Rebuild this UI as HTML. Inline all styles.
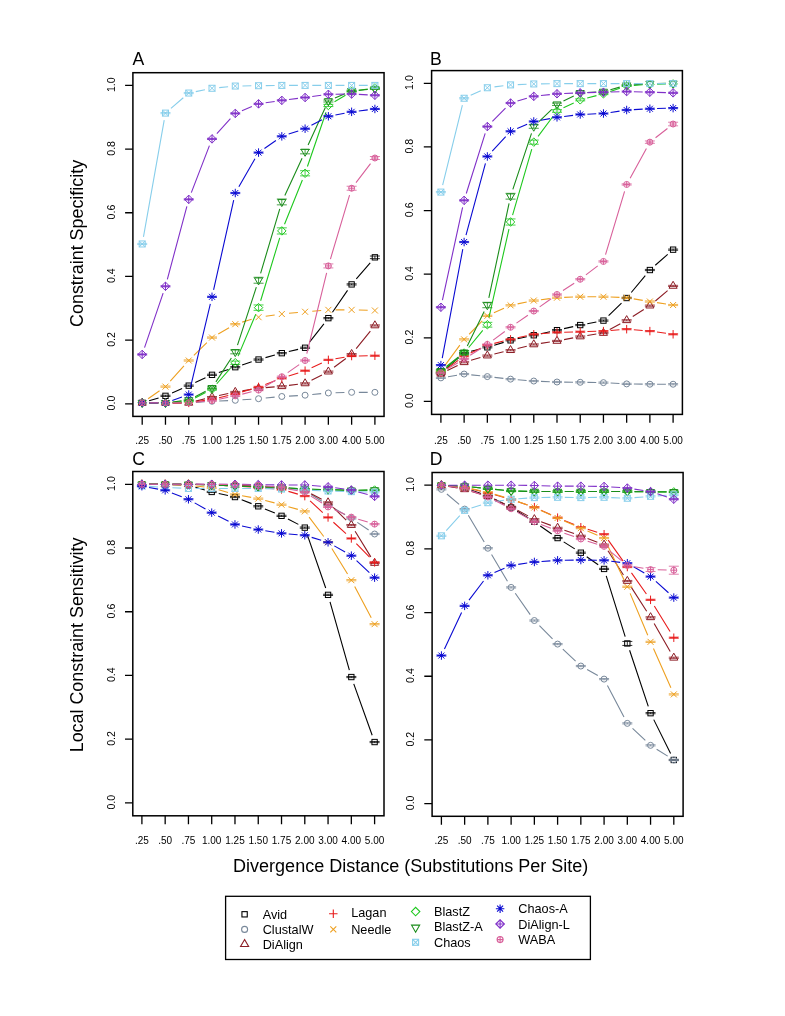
<!DOCTYPE html>
<html><head><meta charset="utf-8"><style>
html,body{margin:0;padding:0;background:#fff;}
svg{display:block;filter:blur(0.3px);}
text{font-family:"Liberation Sans",sans-serif;fill:#000;}
.yl{font-size:10.6px;}
.xl{font-size:10px;}
.pl{font-size:17.6px;}
.at{font-size:18px;}
.lg{font-size:12.7px;}
</style></head><body>
<svg width="785" height="1016" viewBox="0 0 785 1016">
<rect width="785" height="1016" fill="#fff"/>
<rect x="132.9" y="72.7" width="251.15" height="343.7" fill="none" stroke="#000" stroke-width="1.5"/>
<path d="M125.1 403.8H132.9M125.1 340.12H132.9M125.1 276.44H132.9M125.1 212.76H132.9M125.1 149.08H132.9M125.1 85.4H132.9M142.2 416.4V424.8M165.47 416.4V424.8M188.74 416.4V424.8M212.01 416.4V424.8M235.28 416.4V424.8M258.55 416.4V424.8M281.82 416.4V424.8M305.09 416.4V424.8M328.36 416.4V424.8M351.63 416.4V424.8M374.9 416.4V424.8" stroke="#000" stroke-width="1.3" fill="none"/>
<text transform="translate(114.7,403.1) rotate(-90)" text-anchor="middle" class="yl">0.0</text>
<text transform="translate(114.7,339.42) rotate(-90)" text-anchor="middle" class="yl">0.2</text>
<text transform="translate(114.7,275.74) rotate(-90)" text-anchor="middle" class="yl">0.4</text>
<text transform="translate(114.7,212.06) rotate(-90)" text-anchor="middle" class="yl">0.6</text>
<text transform="translate(114.7,148.38) rotate(-90)" text-anchor="middle" class="yl">0.8</text>
<text transform="translate(114.7,84.7) rotate(-90)" text-anchor="middle" class="yl">1.0</text>
<text x="142.2" y="443.6" text-anchor="middle" class="xl">.25</text>
<text x="165.47" y="443.6" text-anchor="middle" class="xl">.50</text>
<text x="188.74" y="443.6" text-anchor="middle" class="xl">.75</text>
<text x="212.01" y="443.6" text-anchor="middle" class="xl">1.00</text>
<text x="235.28" y="443.6" text-anchor="middle" class="xl">1.25</text>
<text x="258.55" y="443.6" text-anchor="middle" class="xl">1.50</text>
<text x="281.82" y="443.6" text-anchor="middle" class="xl">1.75</text>
<text x="305.09" y="443.6" text-anchor="middle" class="xl">2.00</text>
<text x="328.36" y="443.6" text-anchor="middle" class="xl">3.00</text>
<text x="351.63" y="443.6" text-anchor="middle" class="xl">4.00</text>
<text x="374.9" y="443.6" text-anchor="middle" class="xl">5.00</text>
<path d="M149.09 400.77L158.58 397.92M172.07 392.95L182.14 388.54M195.27 382.61L205.48 377.86M218.85 372.58L228.44 369.43M242.12 364.94L251.71 361.79M265.49 357.64L274.88 355.07M288.83 351.54L298.08 349.39M309.54 342.1L323.91 323.81M332.45 312.22L347.54 290.33M356.32 278.94L370.21 262.8" stroke="#000000" stroke-width="1.1" fill="none"/>
<path d="M160.47 395.24H170.47M160.47 396.44H170.47M165.47 395.24V396.44M183.74 385.05H193.74M183.74 386.25H193.74M188.74 385.05V386.25M207.01 374.23H217.01M207.01 375.43H217.01M212.01 374.23V375.43M230.28 366.58H240.28M230.28 367.78H240.28M235.28 366.58V367.78M253.55 358.94H263.55M253.55 360.14H263.55M258.55 358.94V360.14M276.82 352.57H286.82M276.82 353.77H286.82M281.82 352.57V353.77M300.09 347.16H310.09M300.09 348.36H310.09M305.09 347.16V348.36M323.36 317.55H333.36M323.36 318.75H333.36M328.36 317.55V318.75M346.63 283.8H356.63M346.63 285H356.63M351.63 283.8V285M369.9 256.04H379.9M369.9 258.64H379.9M374.9 256.04V258.64" stroke="#000000" stroke-width="0.8" fill="none"/>
<g stroke-width="1.0"><rect x="139.54" y="400.19" width="5.32" height="5.32" fill="none" stroke="#000000"/><rect x="162.81" y="393.18" width="5.32" height="5.32" fill="none" stroke="#000000"/><rect x="186.08" y="382.99" width="5.32" height="5.32" fill="none" stroke="#000000"/><rect x="209.35" y="372.17" width="5.32" height="5.32" fill="none" stroke="#000000"/><rect x="232.62" y="364.53" width="5.32" height="5.32" fill="none" stroke="#000000"/><rect x="255.89" y="356.88" width="5.32" height="5.32" fill="none" stroke="#000000"/><rect x="279.16" y="350.52" width="5.32" height="5.32" fill="none" stroke="#000000"/><rect x="302.43" y="345.1" width="5.32" height="5.32" fill="none" stroke="#000000"/><rect x="325.7" y="315.49" width="5.32" height="5.32" fill="none" stroke="#000000"/><rect x="348.97" y="281.74" width="5.32" height="5.32" fill="none" stroke="#000000"/><rect x="372.24" y="254.68" width="5.32" height="5.32" fill="none" stroke="#000000"/></g>
<path d="M149.4 402.84L158.27 402.84M172.67 402.84L181.54 402.84M195.92 402.35L204.83 401.74M219.2 400.96L228.09 400.59M242.46 399.81L251.37 399.2M265.72 398.02L274.65 397.16M289.01 396.08L297.9 395.6M312.26 394.52L321.19 393.66M335.56 392.78L344.43 392.53M358.83 392.34L367.7 392.34" stroke="#78889a" stroke-width="1.1" fill="none"/>
<path d="" stroke="#78889a" stroke-width="0.8" fill="none"/>
<g stroke-width="1.0"><circle cx="142.2" cy="402.84" r="3" fill="none" stroke="#78889a"/><circle cx="165.47" cy="402.84" r="3" fill="none" stroke="#78889a"/><circle cx="188.74" cy="402.84" r="3" fill="none" stroke="#78889a"/><circle cx="212.01" cy="401.25" r="3" fill="none" stroke="#78889a"/><circle cx="235.28" cy="400.3" r="3" fill="none" stroke="#78889a"/><circle cx="258.55" cy="398.71" r="3" fill="none" stroke="#78889a"/><circle cx="281.82" cy="396.48" r="3" fill="none" stroke="#78889a"/><circle cx="305.09" cy="395.2" r="3" fill="none" stroke="#78889a"/><circle cx="328.36" cy="392.97" r="3" fill="none" stroke="#78889a"/><circle cx="351.63" cy="392.34" r="3" fill="none" stroke="#78889a"/><circle cx="374.9" cy="392.34" r="3" fill="none" stroke="#78889a"/></g>
<path d="M149.4 402.84L158.27 402.84M172.67 402.84L181.54 402.84M195.73 401.12L205.02 398.84M219.04 395.57L228.25 393.56M242.38 390.85L251.45 389.36M265.73 387.61L274.64 386.88M288.97 385.41L297.94 384.3M311.51 380.17L321.94 374.89M334.11 367.31L345.88 358.46M356.17 348.54L370.36 331.06" stroke="#8c1c24" stroke-width="1.1" fill="none"/>
<path d="M207.01 396.51H217.01M207.01 397.71H217.01M212.01 396.51V397.71M230.28 391.42H240.28M230.28 392.62H240.28M235.28 391.42V392.62M253.55 387.6H263.55M253.55 388.8H263.55M258.55 387.6V388.8M276.82 385.69H286.82M276.82 386.89H286.82M281.82 385.69V386.89M300.09 382.82H310.09M300.09 384.02H310.09M305.09 382.82V384.02M323.36 371.04H333.36M323.36 372.24H333.36M328.36 371.04V372.24M346.63 353.53H356.63M346.63 354.73H356.63M351.63 353.53V354.73M369.9 324.87H379.9M369.9 326.07H379.9M374.9 324.87V326.07" stroke="#8c1c24" stroke-width="0.8" fill="none"/>
<g stroke-width="1.0"><polygon points="142.2,398.18 146.24,405.18 138.16,405.18" fill="none" stroke="#8c1c24"/><polygon points="165.47,398.18 169.51,405.18 161.43,405.18" fill="none" stroke="#8c1c24"/><polygon points="188.74,398.18 192.78,405.18 184.7,405.18" fill="none" stroke="#8c1c24"/><polygon points="212.01,392.45 216.05,399.45 207.97,399.45" fill="none" stroke="#8c1c24"/><polygon points="235.28,387.35 239.32,394.35 231.24,394.35" fill="none" stroke="#8c1c24"/><polygon points="258.55,383.53 262.59,390.53 254.51,390.53" fill="none" stroke="#8c1c24"/><polygon points="281.82,381.62 285.86,388.62 277.78,388.62" fill="none" stroke="#8c1c24"/><polygon points="305.09,378.76 309.13,385.76 301.05,385.76" fill="none" stroke="#8c1c24"/><polygon points="328.36,366.98 332.4,373.97 324.32,373.97" fill="none" stroke="#8c1c24"/><polygon points="351.63,349.46 355.67,356.46 347.59,356.46" fill="none" stroke="#8c1c24"/><polygon points="374.9,320.81 378.94,327.81 370.86,327.81" fill="none" stroke="#8c1c24"/></g>
<path d="M149.4 402.84L158.27 402.84M172.67 402.84L181.54 402.84M195.86 401.77L204.89 400.41M219.02 397.71L228.27 395.56M242.17 391.85L251.66 389M265.3 384.43L275.07 380.82M288.66 376.08L298.25 372.93M311.62 367.65L321.83 362.9M335.46 358.69L344.53 357.21M358.83 355.94L367.7 355.82" stroke="#e81c1c" stroke-width="1.1" fill="none"/>
<path d="M207.01 398.74H217.01M207.01 399.94H217.01M212.01 398.74V399.94M230.28 393.33H240.28M230.28 394.53H240.28M235.28 393.33V394.53M253.55 386.32H263.55M253.55 387.52H263.55M258.55 386.32V387.52M276.82 377.73H286.82M276.82 378.93H286.82M281.82 377.73V378.93M300.09 370.09H310.09M300.09 371.29H310.09M305.09 370.09V371.29M323.36 359.26H333.36M323.36 360.46H333.36M328.36 359.26V360.46M346.63 355.44H356.63M346.63 356.64H356.63M351.63 355.44V356.64M369.9 355.12H379.9M369.9 356.32H379.9M374.9 355.12V356.32" stroke="#e81c1c" stroke-width="0.8" fill="none"/>
<g stroke-width="1.0"><path d="M137.96 402.84H146.44M142.2 398.6V407.09" stroke="#e81c1c"/><path d="M161.23 402.84H169.71M165.47 398.6V407.09" stroke="#e81c1c"/><path d="M184.5 402.84H192.98M188.74 398.6V407.09" stroke="#e81c1c"/><path d="M207.77 399.34H216.25M212.01 395.1V403.59" stroke="#e81c1c"/><path d="M231.04 393.93H239.52M235.28 389.69V398.17" stroke="#e81c1c"/><path d="M254.31 386.92H262.79M258.55 382.68V391.17" stroke="#e81c1c"/><path d="M277.58 378.33H286.06M281.82 374.09V382.57" stroke="#e81c1c"/><path d="M300.85 370.69H309.33M305.09 366.44V374.93" stroke="#e81c1c"/><path d="M324.12 359.86H332.6M328.36 355.62V364.1" stroke="#e81c1c"/><path d="M347.39 356.04H355.87M351.63 351.8V360.28" stroke="#e81c1c"/><path d="M370.66 355.72H379.14M374.9 351.48V359.96" stroke="#e81c1c"/></g>
<path d="M148.1 398.72L159.57 390.73M170.26 381.23L183.95 365.87M193.87 355.44L206.88 342.63M218.25 333.99L229.04 327.79M242.17 322.12L251.66 319.27M265.68 316.22L274.69 314.99M288.99 313.32L297.92 312.47M312.27 311.19L321.18 310.46M335.56 309.87L344.43 309.87M358.83 310.07L367.7 310.31" stroke="#eea020" stroke-width="1.1" fill="none"/>
<path d="M160.47 386.01H170.47M160.47 387.21H170.47M165.47 386.01V387.21M183.74 359.9H193.74M183.74 361.1H193.74M188.74 359.9V361.1M207.01 336.97H217.01M207.01 338.17H217.01M212.01 336.97V338.17M230.28 323.6H240.28M230.28 324.8H240.28M235.28 323.6V324.8" stroke="#eea020" stroke-width="0.8" fill="none"/>
<g stroke-width="1.0"><path d="M139.2 399.84L145.2 405.84M139.2 405.84L145.2 399.84" stroke="#eea020"/><path d="M162.47 383.61L168.47 389.61M162.47 389.61L168.47 383.61" stroke="#eea020"/><path d="M185.74 357.5L191.74 363.5M185.74 363.5L191.74 357.5" stroke="#eea020"/><path d="M209.01 334.57L215.01 340.57M209.01 340.57L215.01 334.57" stroke="#eea020"/><path d="M232.28 321.2L238.28 327.2M232.28 327.2L238.28 321.2" stroke="#eea020"/><path d="M255.55 314.2L261.55 320.2M255.55 320.2L261.55 314.2" stroke="#eea020"/><path d="M278.82 311.01L284.82 317.01M278.82 317.01L284.82 311.01" stroke="#eea020"/><path d="M302.09 308.78L308.09 314.78M302.09 314.78L308.09 308.78" stroke="#eea020"/><path d="M325.36 306.87L331.36 312.87M325.36 312.87L331.36 306.87" stroke="#eea020"/><path d="M348.63 306.87L354.63 312.87M348.63 312.87L354.63 306.87" stroke="#eea020"/><path d="M371.9 307.51L377.9 313.51M371.9 313.51L377.9 307.51" stroke="#eea020"/></g>
<path d="M149.4 402.84L158.27 402.84M172.65 402.35L181.56 401.74M195.13 397.93L205.62 392.48M216.77 383.75L230.52 368.13M238.08 356.09L255.75 314.28M260.64 300.75L279.73 237.8M284.52 224.23L302.39 179.95M307.43 166.47L326.02 112.27M334.53 101.75L345.46 95.16M358.75 90.38L367.78 89.02" stroke="#1ec81e" stroke-width="1.1" fill="none"/>
<path d="M183.74 400.65H193.74M183.74 401.85H193.74M188.74 400.65V401.85M207.01 388.2H217.01M207.01 390.11H217.01M212.01 388.2V390.11M230.28 361.06H240.28M230.28 364.39H240.28M235.28 361.06V364.39M253.55 304.95H263.55M253.55 310.34H263.55M258.55 304.95V310.34M276.82 227.83H286.82M276.82 233.99H286.82M281.82 227.83V233.99M300.09 170.7H310.09M300.09 175.86H310.09M305.09 170.7V175.86M323.36 104.35H333.36M323.36 106.57H333.36M328.36 104.35V106.57M346.63 90.76H356.63M346.63 92.14H356.63M351.63 90.76V92.14M369.9 87.35H379.9M369.9 88.55H379.9M374.9 87.35V88.55" stroke="#1ec81e" stroke-width="0.8" fill="none"/>
<g stroke-width="1.0"><polygon points="137.96,402.84 142.2,398.6 146.44,402.84 142.2,407.09" fill="none" stroke="#1ec81e"/><polygon points="161.23,402.84 165.47,398.6 169.71,402.84 165.47,407.09" fill="none" stroke="#1ec81e"/><polygon points="184.5,401.25 188.74,397.01 192.98,401.25 188.74,405.5" fill="none" stroke="#1ec81e"/><polygon points="207.77,389.15 212.01,384.91 216.25,389.15 212.01,393.4" fill="none" stroke="#1ec81e"/><polygon points="231.04,362.73 235.28,358.48 239.52,362.73 235.28,366.97" fill="none" stroke="#1ec81e"/><polygon points="254.31,307.64 258.55,303.4 262.79,307.64 258.55,311.89" fill="none" stroke="#1ec81e"/><polygon points="277.58,230.91 281.82,226.67 286.06,230.91 281.82,235.15" fill="none" stroke="#1ec81e"/><polygon points="300.85,173.28 305.09,169.04 309.33,173.28 305.09,177.52" fill="none" stroke="#1ec81e"/><polygon points="324.12,105.46 328.36,101.22 332.6,105.46 328.36,109.7" fill="none" stroke="#1ec81e"/><polygon points="347.39,91.45 351.63,87.21 355.87,91.45 351.63,95.69" fill="none" stroke="#1ec81e"/><polygon points="370.66,87.95 374.9,83.7 379.14,87.95 374.9,92.19" fill="none" stroke="#1ec81e"/></g>
<path d="M149.4 402.84L158.27 402.84M172.62 401.96L181.59 400.86M195.13 396.66L205.62 391.2M215.92 381.83L231.37 357.95M237.5 345.05L256.33 287.11M260.6 273.36L279.77 208.84M284.84 195.4L302.07 158.16M308.1 145.09L325.35 107.54M334.96 98.11L345.03 93.7M358.81 90.22L367.72 89.49" stroke="#1a8c1a" stroke-width="1.1" fill="none"/>
<path d="M183.74 399.36H193.74M183.74 400.6H193.74M188.74 399.36V400.6M207.01 386.89H217.01M207.01 388.87H217.01M212.01 386.89V388.87M230.28 349.98H240.28M230.28 353.82H240.28M235.28 349.98V353.82M253.55 277.29H263.55M253.55 283.23H263.55M258.55 277.29V283.23M276.82 199.02H286.82M276.82 204.85H286.82M281.82 199.02V204.85M300.09 149.41H310.09M300.09 153.84H310.09M305.09 149.41V153.84M323.36 100.02H333.36M323.36 101.99H333.36M328.36 100.02V101.99M346.63 90.14H356.63M346.63 91.49H356.63M351.63 90.14V91.49M369.9 88.29H379.9M369.9 89.52H379.9M374.9 88.29V89.52" stroke="#1a8c1a" stroke-width="0.8" fill="none"/>
<g stroke-width="1.0"><polygon points="142.2,407.51 146.24,400.51 138.16,400.51" fill="none" stroke="#1a8c1a"/><polygon points="165.47,407.51 169.51,400.51 161.43,400.51" fill="none" stroke="#1a8c1a"/><polygon points="188.74,404.64 192.78,397.65 184.7,397.65" fill="none" stroke="#1a8c1a"/><polygon points="212.01,392.55 216.05,385.55 207.97,385.55" fill="none" stroke="#1a8c1a"/><polygon points="235.28,356.57 239.32,349.57 231.24,349.57" fill="none" stroke="#1a8c1a"/><polygon points="258.55,284.93 262.59,277.93 254.51,277.93" fill="none" stroke="#1a8c1a"/><polygon points="281.82,206.6 285.86,199.6 277.78,199.6" fill="none" stroke="#1a8c1a"/><polygon points="305.09,156.29 309.13,149.29 301.05,149.29" fill="none" stroke="#1a8c1a"/><polygon points="328.36,105.67 332.4,98.67 324.32,98.67" fill="none" stroke="#1a8c1a"/><polygon points="351.63,95.48 355.67,88.48 347.59,88.48" fill="none" stroke="#1a8c1a"/><polygon points="374.9,93.57 378.94,86.57 370.86,86.57" fill="none" stroke="#1a8c1a"/></g>
<path d="M143.46 236.87L164.21 120.19M170.92 108.4L183.29 97.74M195.79 91.59L204.96 89.71M219.18 87.58L228.11 86.72M242.48 85.94L251.35 85.82M265.75 85.62L274.62 85.5M289.02 85.4L297.89 85.4M312.29 85.4L321.16 85.4M335.56 85.4L344.43 85.4M358.83 85.4L367.7 85.4" stroke="#87ceeb" stroke-width="1.1" fill="none"/>
<path d="M137.2 243.36H147.2M137.2 244.56H147.2M142.2 243.36V244.56M160.47 112.5H170.47M160.47 113.7H170.47M165.47 112.5V113.7M183.74 92.44H193.74M183.74 93.64H193.74M188.74 92.44V93.64" stroke="#87ceeb" stroke-width="0.8" fill="none"/>
<g stroke-width="1.0"><rect x="139.2" y="240.96" width="6" height="6" fill="none" stroke="#87ceeb"/><path d="M139.2 240.96L145.2 246.96M139.2 246.96L145.2 240.96" stroke="#87ceeb"/><rect x="162.47" y="110.1" width="6" height="6" fill="none" stroke="#87ceeb"/><path d="M162.47 110.1L168.47 116.1M162.47 116.1L168.47 110.1" stroke="#87ceeb"/><rect x="185.74" y="90.04" width="6" height="6" fill="none" stroke="#87ceeb"/><path d="M185.74 90.04L191.74 96.04M185.74 96.04L191.74 90.04" stroke="#87ceeb"/><rect x="209.01" y="85.27" width="6" height="6" fill="none" stroke="#87ceeb"/><path d="M209.01 85.27L215.01 91.27M209.01 91.27L215.01 85.27" stroke="#87ceeb"/><rect x="232.28" y="83.04" width="6" height="6" fill="none" stroke="#87ceeb"/><path d="M232.28 83.04L238.28 89.04M232.28 89.04L238.28 83.04" stroke="#87ceeb"/><rect x="255.55" y="82.72" width="6" height="6" fill="none" stroke="#87ceeb"/><path d="M255.55 82.72L261.55 88.72M255.55 88.72L261.55 82.72" stroke="#87ceeb"/><rect x="278.82" y="82.4" width="6" height="6" fill="none" stroke="#87ceeb"/><path d="M278.82 82.4L284.82 88.4M278.82 88.4L284.82 82.4" stroke="#87ceeb"/><rect x="302.09" y="82.4" width="6" height="6" fill="none" stroke="#87ceeb"/><path d="M302.09 82.4L308.09 88.4M302.09 88.4L308.09 82.4" stroke="#87ceeb"/><rect x="325.36" y="82.4" width="6" height="6" fill="none" stroke="#87ceeb"/><path d="M325.36 82.4L331.36 88.4M325.36 88.4L331.36 82.4" stroke="#87ceeb"/><rect x="348.63" y="82.4" width="6" height="6" fill="none" stroke="#87ceeb"/><path d="M348.63 82.4L354.63 88.4M348.63 88.4L354.63 82.4" stroke="#87ceeb"/><rect x="371.9" y="82.4" width="6" height="6" fill="none" stroke="#87ceeb"/><path d="M371.9 82.4L377.9 88.4M371.9 88.4L377.9 82.4" stroke="#87ceeb"/></g>
<path d="M149.4 402.84L158.27 402.84M172.25 400.43L181.96 396.98M190.41 387.56L210.34 303.82M213.59 289.79L233.7 200.04M238.87 186.78L254.96 158.82M264.45 148.46L275.92 140.46M288.66 134.1L298.25 130.95M311.44 125.31L322.01 119.67M335.43 114.93L344.56 113.18M358.78 110.95L367.75 109.84" stroke="#0a0ad2" stroke-width="1.1" fill="none"/>
<path d="M183.74 393.97H193.74M183.74 395.17H193.74M188.74 393.97V395.17M207.01 296.22H217.01M207.01 297.42H217.01M212.01 296.22V297.42M230.28 192.42H240.28M230.28 193.62H240.28M235.28 192.42V193.62M253.55 151.98H263.55M253.55 153.18H263.55M258.55 151.98V153.18M276.82 135.74H286.82M276.82 136.94H286.82M281.82 135.74V136.94M300.09 128.1H310.09M300.09 129.3H310.09M305.09 128.1V129.3M323.36 115.68H333.36M323.36 116.88H333.36M328.36 115.68V116.88M346.63 111.23H356.63M346.63 112.43H356.63M351.63 111.23V112.43M369.9 108.36H379.9M369.9 109.56H379.9M374.9 108.36V109.56" stroke="#0a0ad2" stroke-width="0.8" fill="none"/>
<g stroke-width="1.0"><path d="M137.96 402.84H146.44M142.2 398.6V407.09M139.2 399.84L145.2 405.84M139.2 405.84L145.2 399.84" stroke="#0a0ad2"/><path d="M161.23 402.84H169.71M165.47 398.6V407.09M162.47 399.84L168.47 405.84M162.47 405.84L168.47 399.84" stroke="#0a0ad2"/><path d="M184.5 394.57H192.98M188.74 390.32V398.81M185.74 391.57L191.74 397.57M185.74 397.57L191.74 391.57" stroke="#0a0ad2"/><path d="M207.77 296.82H216.25M212.01 292.57V301.06M209.01 293.82L215.01 299.82M209.01 299.82L215.01 293.82" stroke="#0a0ad2"/><path d="M231.04 193.02H239.52M235.28 188.78V197.26M232.28 190.02L238.28 196.02M232.28 196.02L238.28 190.02" stroke="#0a0ad2"/><path d="M254.31 152.58H262.79M258.55 148.34V156.83M255.55 149.58L261.55 155.58M255.55 155.58L261.55 149.58" stroke="#0a0ad2"/><path d="M277.58 136.34H286.06M281.82 132.1V140.59M278.82 133.34L284.82 139.34M278.82 139.34L284.82 133.34" stroke="#0a0ad2"/><path d="M300.85 128.7H309.33M305.09 124.46V132.95M302.09 125.7L308.09 131.7M302.09 131.7L308.09 125.7" stroke="#0a0ad2"/><path d="M324.12 116.28H332.6M328.36 112.04V120.53M325.36 113.28L331.36 119.28M325.36 119.28L331.36 113.28" stroke="#0a0ad2"/><path d="M347.39 111.83H355.87M351.63 107.58V116.07M348.63 108.83L354.63 114.83M348.63 114.83L354.63 108.83" stroke="#0a0ad2"/><path d="M370.66 108.96H379.14M374.9 104.72V113.2M371.9 105.96L377.9 111.96M371.9 111.96L377.9 105.96" stroke="#0a0ad2"/></g>
<path d="M144.53 347.63L163.14 293.12M167.33 279.36L186.88 206.34M191.32 192.67L209.43 145.61M216.87 133.58L230.42 118.73M241.94 110.69L251.89 106.6M265.67 102.8L274.7 101.44M288.97 99.48L297.94 98.38M312.22 96.52L321.23 95.29M335.56 94.22L344.43 94.1M358.82 94.39L367.71 94.88" stroke="#8030c8" stroke-width="1.1" fill="none"/>
<path d="M137.2 353.85H147.2M137.2 355.05H147.2M142.2 353.85V355.05M160.47 285.71H170.47M160.47 286.91H170.47M165.47 285.71V286.91M183.74 198.79H193.74M183.74 199.99H193.74M188.74 198.79V199.99M207.01 138.29H217.01M207.01 139.49H217.01M212.01 138.29V139.49M230.28 112.82H240.28M230.28 114.02H240.28M235.28 112.82V114.02M253.55 103.27H263.55M253.55 104.47H263.55M258.55 103.27V104.47M276.82 99.76H286.82M276.82 100.96H286.82M281.82 99.76V100.96M300.09 96.9H310.09M300.09 98.1H310.09M305.09 96.9V98.1M323.36 93.72H333.36M323.36 94.92H333.36M328.36 93.72V94.92M346.63 93.4H356.63M346.63 94.6H356.63M351.63 93.4V94.6M369.9 94.67H379.9M369.9 95.87H379.9M374.9 94.67V95.87" stroke="#8030c8" stroke-width="0.8" fill="none"/>
<g stroke-width="1.0"><polygon points="137.96,354.45 142.2,350.21 146.44,354.45 142.2,358.69" fill="none" stroke="#8030c8"/><path d="M137.96 354.45H146.44M142.2 350.21V358.69" stroke="#8030c8"/><polygon points="161.23,286.31 165.47,282.07 169.71,286.31 165.47,290.55" fill="none" stroke="#8030c8"/><path d="M161.23 286.31H169.71M165.47 282.07V290.55" stroke="#8030c8"/><polygon points="184.5,199.39 188.74,195.14 192.98,199.39 188.74,203.63" fill="none" stroke="#8030c8"/><path d="M184.5 199.39H192.98M188.74 195.14V203.63" stroke="#8030c8"/><polygon points="207.77,138.89 212.01,134.65 216.25,138.89 212.01,143.13" fill="none" stroke="#8030c8"/><path d="M207.77 138.89H216.25M212.01 134.65V143.13" stroke="#8030c8"/><polygon points="231.04,113.42 235.28,109.18 239.52,113.42 235.28,117.66" fill="none" stroke="#8030c8"/><path d="M231.04 113.42H239.52M235.28 109.18V117.66" stroke="#8030c8"/><polygon points="254.31,103.87 258.55,99.62 262.79,103.87 258.55,108.11" fill="none" stroke="#8030c8"/><path d="M254.31 103.87H262.79M258.55 99.62V108.11" stroke="#8030c8"/><polygon points="277.58,100.36 281.82,96.12 286.06,100.36 281.82,104.61" fill="none" stroke="#8030c8"/><path d="M277.58 100.36H286.06M281.82 96.12V104.61" stroke="#8030c8"/><polygon points="300.85,97.5 305.09,93.26 309.33,97.5 305.09,101.74" fill="none" stroke="#8030c8"/><path d="M300.85 97.5H309.33M305.09 93.26V101.74" stroke="#8030c8"/><polygon points="324.12,94.32 328.36,90.07 332.6,94.32 328.36,98.56" fill="none" stroke="#8030c8"/><path d="M324.12 94.32H332.6M328.36 90.07V98.56" stroke="#8030c8"/><polygon points="347.39,94 351.63,89.75 355.87,94 351.63,98.24" fill="none" stroke="#8030c8"/><path d="M347.39 94H355.87M351.63 89.75V98.24" stroke="#8030c8"/><polygon points="370.66,95.27 374.9,91.03 379.14,95.27 374.9,99.51" fill="none" stroke="#8030c8"/><path d="M370.66 95.27H379.14M374.9 91.03V99.51" stroke="#8030c8"/></g>
<path d="M149.4 402.84L158.27 402.84M172.67 402.84L181.54 402.84M195.91 402.16L204.84 401.3M219.06 399.17L228.23 397.29M242.27 394.12L251.56 391.83M264.79 386.52L275.58 380.32M287.72 372.62L299.19 364.62M306.81 353.51L326.64 272.92M330.43 259.04L349.56 195.14M356.02 182.54L370.51 163.7" stroke="#d8609a" stroke-width="1.1" fill="none"/>
<path d="M207.01 400.02H217.01M207.01 401.22H217.01M212.01 400.02V401.22M230.28 395.24H240.28M230.28 396.44H240.28M235.28 395.24V396.44M253.55 389.51H263.55M253.55 390.71H263.55M258.55 389.51V390.71M276.82 376.14H286.82M276.82 377.34H286.82M281.82 376.14V377.34M300.09 359.9H310.09M300.09 361.1H310.09M305.09 359.9V361.1M323.36 263.93H333.36M323.36 267.93H333.36M328.36 263.93V267.93M346.63 186.24H356.63M346.63 190.24H356.63M351.63 186.24V190.24M369.9 156.5H379.9M369.9 159.5H379.9M374.9 156.5V159.5" stroke="#d8609a" stroke-width="0.8" fill="none"/>
<g stroke-width="1.0"><circle cx="142.2" cy="402.84" r="3" fill="none" stroke="#d8609a"/><path d="M139.2 402.84H145.2M142.2 399.84V405.84" stroke="#d8609a"/><circle cx="165.47" cy="402.84" r="3" fill="none" stroke="#d8609a"/><path d="M162.47 402.84H168.47M165.47 399.84V405.84" stroke="#d8609a"/><circle cx="188.74" cy="402.84" r="3" fill="none" stroke="#d8609a"/><path d="M185.74 402.84H191.74M188.74 399.84V405.84" stroke="#d8609a"/><circle cx="212.01" cy="400.62" r="3" fill="none" stroke="#d8609a"/><path d="M209.01 400.62H215.01M212.01 397.62V403.62" stroke="#d8609a"/><circle cx="235.28" cy="395.84" r="3" fill="none" stroke="#d8609a"/><path d="M232.28 395.84H238.28M235.28 392.84V398.84" stroke="#d8609a"/><circle cx="258.55" cy="390.11" r="3" fill="none" stroke="#d8609a"/><path d="M255.55 390.11H261.55M258.55 387.11V393.11" stroke="#d8609a"/><circle cx="281.82" cy="376.74" r="3" fill="none" stroke="#d8609a"/><path d="M278.82 376.74H284.82M281.82 373.74V379.74" stroke="#d8609a"/><circle cx="305.09" cy="360.5" r="3" fill="none" stroke="#d8609a"/><path d="M302.09 360.5H308.09M305.09 357.5V363.5" stroke="#d8609a"/><circle cx="328.36" cy="265.93" r="3" fill="none" stroke="#d8609a"/><path d="M325.36 265.93H331.36M328.36 262.93V268.93" stroke="#d8609a"/><circle cx="351.63" cy="188.24" r="3" fill="none" stroke="#d8609a"/><path d="M348.63 188.24H354.63M351.63 185.24V191.24" stroke="#d8609a"/><circle cx="374.9" cy="158" r="3" fill="none" stroke="#d8609a"/><path d="M371.9 158H377.9M374.9 155V161" stroke="#d8609a"/></g>
<rect x="431.6" y="70.6" width="250.8" height="343.8" fill="none" stroke="#000" stroke-width="1.5"/>
<path d="M423.8 401.4H431.6M423.8 337.78H431.6M423.8 274.16H431.6M423.8 210.54H431.6M423.8 146.92H431.6M423.8 83.3H431.6M440.9 414.4V422.8M464.12 414.4V422.8M487.34 414.4V422.8M510.56 414.4V422.8M533.78 414.4V422.8M557 414.4V422.8M580.22 414.4V422.8M603.44 414.4V422.8M626.66 414.4V422.8M649.88 414.4V422.8M673.1 414.4V422.8" stroke="#000" stroke-width="1.3" fill="none"/>
<text transform="translate(413.4,400.7) rotate(-90)" text-anchor="middle" class="yl">0.0</text>
<text transform="translate(413.4,337.08) rotate(-90)" text-anchor="middle" class="yl">0.2</text>
<text transform="translate(413.4,273.46) rotate(-90)" text-anchor="middle" class="yl">0.4</text>
<text transform="translate(413.4,209.84) rotate(-90)" text-anchor="middle" class="yl">0.6</text>
<text transform="translate(413.4,146.22) rotate(-90)" text-anchor="middle" class="yl">0.8</text>
<text transform="translate(413.4,82.6) rotate(-90)" text-anchor="middle" class="yl">1.0</text>
<text x="440.9" y="443.6" text-anchor="middle" class="xl">.25</text>
<text x="464.12" y="443.6" text-anchor="middle" class="xl">.50</text>
<text x="487.34" y="443.6" text-anchor="middle" class="xl">.75</text>
<text x="510.56" y="443.6" text-anchor="middle" class="xl">1.00</text>
<text x="533.78" y="443.6" text-anchor="middle" class="xl">1.25</text>
<text x="557" y="443.6" text-anchor="middle" class="xl">1.50</text>
<text x="580.22" y="443.6" text-anchor="middle" class="xl">1.75</text>
<text x="603.44" y="443.6" text-anchor="middle" class="xl">2.00</text>
<text x="626.66" y="443.6" text-anchor="middle" class="xl">3.00</text>
<text x="649.88" y="443.6" text-anchor="middle" class="xl">4.00</text>
<text x="673.1" y="443.6" text-anchor="middle" class="xl">5.00</text>
<path d="M446.39 368.11L458.63 357.71M471.11 351.32L480.35 349.05M494.23 345.25L503.67 342.4M517.59 338.78L526.75 336.78M540.81 333.69L549.97 331.69M564.03 328.6L573.19 326.6M587.29 323.7L596.37 321.96M608.6 315.58L621.5 303.04M631.26 292.48L645.28 275.57M655.29 265.28L667.69 254.41" stroke="#000000" stroke-width="1.1" fill="none"/>
<path d="M435.9 372.17H445.9M435.9 373.37H445.9M440.9 372.17V373.37M459.12 352.45H469.12M459.12 353.65H469.12M464.12 352.45V353.65M482.34 346.72H492.34M482.34 347.92H492.34M487.34 346.72V347.92M505.56 339.72H515.56M505.56 340.92H515.56M510.56 339.72V340.92M528.78 334.64H538.78M528.78 335.84H538.78M533.78 334.64V335.84M552 329.55H562M552 330.75H562M557 329.55V330.75M575.22 324.46H585.22M575.22 325.66H585.22M580.22 324.46V325.66M598.44 320H608.44M598.44 321.2H608.44M603.44 320V321.2M621.66 297.42H631.66M621.66 298.62H631.66M626.66 297.42V298.62M644.88 269.42H654.88M644.88 270.62H654.88M649.88 269.42V270.62M668.1 249.07H678.1M668.1 250.27H678.1M673.1 249.07V250.27" stroke="#000000" stroke-width="0.8" fill="none"/>
<g stroke-width="1.0"><rect x="438.24" y="370.11" width="5.32" height="5.32" fill="none" stroke="#000000"/><rect x="461.46" y="350.39" width="5.32" height="5.32" fill="none" stroke="#000000"/><rect x="484.68" y="344.66" width="5.32" height="5.32" fill="none" stroke="#000000"/><rect x="507.9" y="337.67" width="5.32" height="5.32" fill="none" stroke="#000000"/><rect x="531.12" y="332.58" width="5.32" height="5.32" fill="none" stroke="#000000"/><rect x="554.34" y="327.49" width="5.32" height="5.32" fill="none" stroke="#000000"/><rect x="577.56" y="322.4" width="5.32" height="5.32" fill="none" stroke="#000000"/><rect x="600.78" y="317.94" width="5.32" height="5.32" fill="none" stroke="#000000"/><rect x="624" y="295.36" width="5.32" height="5.32" fill="none" stroke="#000000"/><rect x="647.22" y="267.37" width="5.32" height="5.32" fill="none" stroke="#000000"/><rect x="670.44" y="247.01" width="5.32" height="5.32" fill="none" stroke="#000000"/></g>
<path d="M448 376.69L457.02 375.21M471.28 374.83L480.18 375.8M494.5 377.37L503.4 378.35M517.74 379.72L526.6 380.45M540.97 381.34L549.81 381.7M564.2 382.09L573.02 382.22M587.42 382.41L596.24 382.53M610.63 383.03L619.47 383.51M633.86 384L642.68 384.12M657.08 384.22L665.9 384.22" stroke="#78889a" stroke-width="1.1" fill="none"/>
<path d="M435.9 377.26H445.9M435.9 378.46H445.9M440.9 377.26V378.46M459.12 373.44H469.12M459.12 374.64H469.12M464.12 373.44V374.64M482.34 375.99H492.34M482.34 377.19H492.34M487.34 375.99V377.19M505.56 378.53H515.56M505.56 379.73H515.56M510.56 378.53V379.73M528.78 380.44H538.78M528.78 381.64H538.78M533.78 380.44V381.64M552 381.4H562M552 382.6H562M557 381.4V382.6M575.22 381.71H585.22M575.22 382.91H585.22M580.22 381.71V382.91M598.44 382.03H608.44M598.44 383.23H608.44M603.44 382.03V383.23M621.66 383.3H631.66M621.66 384.5H631.66M626.66 383.3V384.5M644.88 383.62H654.88M644.88 384.82H654.88M649.88 383.62V384.82M668.1 383.62H678.1M668.1 384.82H678.1M673.1 383.62V384.82" stroke="#78889a" stroke-width="0.8" fill="none"/>
<g stroke-width="1.0"><circle cx="440.9" cy="377.86" r="3" fill="none" stroke="#78889a"/><circle cx="464.12" cy="374.04" r="3" fill="none" stroke="#78889a"/><circle cx="487.34" cy="376.59" r="3" fill="none" stroke="#78889a"/><circle cx="510.56" cy="379.13" r="3" fill="none" stroke="#78889a"/><circle cx="533.78" cy="381.04" r="3" fill="none" stroke="#78889a"/><circle cx="557" cy="382" r="3" fill="none" stroke="#78889a"/><circle cx="580.22" cy="382.31" r="3" fill="none" stroke="#78889a"/><circle cx="603.44" cy="382.63" r="3" fill="none" stroke="#78889a"/><circle cx="626.66" cy="383.9" r="3" fill="none" stroke="#78889a"/><circle cx="649.88" cy="384.22" r="3" fill="none" stroke="#78889a"/><circle cx="673.1" cy="384.22" r="3" fill="none" stroke="#78889a"/></g>
<path d="M447.36 370.54L457.66 365.46M471.04 360.28L480.42 357.58M494.35 353.96L503.55 351.82M517.55 348.46L526.79 346.18M540.9 343.39L549.88 342.03M564.07 339.6L573.15 337.86M587.34 335.43L596.32 334.08M609.75 329.55L620.35 323.74M632.75 316.45L643.79 309.49M655.37 300.99L667.61 290.59" stroke="#8c1c24" stroke-width="1.1" fill="none"/>
<path d="M435.9 373.13H445.9M435.9 374.33H445.9M440.9 373.13V374.33M459.12 361.67H469.12M459.12 362.87H469.12M464.12 361.67V362.87M482.34 354.99H492.34M482.34 356.19H492.34M487.34 354.99V356.19M505.56 349.59H515.56M505.56 350.79H515.56M510.56 349.59V350.79M528.78 343.86H538.78M528.78 345.06H538.78M533.78 343.86V345.06M552 340.36H562M552 341.56H562M557 340.36V341.56M575.22 335.91H585.22M575.22 337.11H585.22M580.22 335.91V337.11M598.44 332.41H608.44M598.44 333.61H608.44M603.44 332.41V333.61M621.66 319.68H631.66M621.66 320.88H631.66M626.66 319.68V320.88M644.88 305.05H654.88M644.88 306.25H654.88M649.88 305.05V306.25M668.1 285.33H678.1M668.1 286.53H678.1M673.1 285.33V286.53" stroke="#8c1c24" stroke-width="0.8" fill="none"/>
<g stroke-width="1.0"><polygon points="440.9,369.06 444.94,376.06 436.86,376.06" fill="none" stroke="#8c1c24"/><polygon points="464.12,357.61 468.16,364.61 460.08,364.61" fill="none" stroke="#8c1c24"/><polygon points="487.34,350.93 491.38,357.93 483.3,357.93" fill="none" stroke="#8c1c24"/><polygon points="510.56,345.52 514.6,352.52 506.52,352.52" fill="none" stroke="#8c1c24"/><polygon points="533.78,339.79 537.82,346.79 529.74,346.79" fill="none" stroke="#8c1c24"/><polygon points="557,336.3 561.04,343.29 552.96,343.29" fill="none" stroke="#8c1c24"/><polygon points="580.22,331.84 584.26,338.84 576.18,338.84" fill="none" stroke="#8c1c24"/><polygon points="603.44,328.34 607.48,335.34 599.4,335.34" fill="none" stroke="#8c1c24"/><polygon points="626.66,315.62 630.7,322.62 622.62,322.62" fill="none" stroke="#8c1c24"/><polygon points="649.88,300.99 653.92,307.98 645.84,307.98" fill="none" stroke="#8c1c24"/><polygon points="673.1,281.26 677.14,288.26 669.06,288.26" fill="none" stroke="#8c1c24"/></g>
<path d="M446.76 368.59L458.26 360.41M470.61 353.12L480.85 348.21M494.33 343.37L503.57 341.09M517.59 337.83L526.75 335.82M540.96 333.69L549.82 332.96M564.2 332.18L573.02 331.93M587.42 331.54L596.24 331.3M610.62 330.51L619.48 329.78M633.84 329.78L642.7 330.51M657.01 332.08L665.97 333.3" stroke="#e81c1c" stroke-width="1.1" fill="none"/>
<path d="M435.9 372.17H445.9M435.9 373.37H445.9M440.9 372.17V373.37M459.12 355.63H469.12M459.12 356.83H469.12M464.12 355.63V356.83M482.34 344.5H492.34M482.34 345.7H492.34M487.34 344.5V345.7M505.56 338.77H515.56M505.56 339.97H515.56M510.56 338.77V339.97M528.78 333.68H538.78M528.78 334.88H538.78M533.78 333.68V334.88M552 331.77H562M552 332.97H562M557 331.77V332.97M575.22 331.14H585.22M575.22 332.34H585.22M580.22 331.14V332.34M598.44 330.5H608.44M598.44 331.7H608.44M603.44 330.5V331.7M621.66 328.59H631.66M621.66 329.79H631.66M626.66 328.59V329.79M644.88 330.5H654.88M644.88 331.7H654.88M649.88 330.5V331.7M668.1 333.68H678.1M668.1 334.88H678.1M673.1 333.68V334.88" stroke="#e81c1c" stroke-width="0.8" fill="none"/>
<g stroke-width="1.0"><path d="M436.66 372.77H445.14M440.9 368.53V377.01" stroke="#e81c1c"/><path d="M459.88 356.23H468.36M464.12 351.99V360.47" stroke="#e81c1c"/><path d="M483.1 345.1H491.58M487.34 340.85V349.34" stroke="#e81c1c"/><path d="M506.32 339.37H514.8M510.56 335.13V343.61" stroke="#e81c1c"/><path d="M529.54 334.28H538.02M533.78 330.04V338.52" stroke="#e81c1c"/><path d="M552.76 332.37H561.24M557 328.13V336.61" stroke="#e81c1c"/><path d="M575.98 331.74H584.46M580.22 327.49V335.98" stroke="#e81c1c"/><path d="M599.2 331.1H607.68M603.44 326.86V335.34" stroke="#e81c1c"/><path d="M622.42 329.19H630.9M626.66 324.95V333.43" stroke="#e81c1c"/><path d="M645.64 331.1H654.12M649.88 326.86V335.34" stroke="#e81c1c"/><path d="M668.86 334.28H677.34M673.1 330.04V338.52" stroke="#e81c1c"/></g>
<path d="M445.17 365.07L459.85 345.17M469.18 334.24L482.28 320.96M493.9 312.87L504 308.3M517.61 303.88L526.73 302.01M540.93 299.68L549.85 298.58M564.19 297.4L573.03 297.04M587.42 296.75L596.24 296.75M610.63 297.04L619.47 297.4M633.76 298.87L642.78 300.35M657 302.59L665.98 303.94" stroke="#eea020" stroke-width="1.1" fill="none"/>
<path d="M435.9 370.26H445.9M435.9 371.46H445.9M440.9 370.26V371.46M459.12 338.77H469.12M459.12 339.97H469.12M464.12 338.77V339.97M482.34 315.23H492.34M482.34 316.43H492.34M487.34 315.23V316.43M505.56 304.73H515.56M505.56 305.93H515.56M510.56 304.73V305.93M528.78 299.96H538.78M528.78 301.16H538.78M533.78 299.96V301.16M552 297.1H562M552 298.3H562M557 297.1V298.3M575.22 296.15H585.22M575.22 297.35H585.22M580.22 296.15V297.35M598.44 296.15H608.44M598.44 297.35H608.44M603.44 296.15V297.35M621.66 297.1H631.66M621.66 298.3H631.66M626.66 297.1V298.3M644.88 300.92H654.88M644.88 302.12H654.88M649.88 300.92V302.12M668.1 304.42H678.1M668.1 305.62H678.1M673.1 304.42V305.62" stroke="#eea020" stroke-width="0.8" fill="none"/>
<g stroke-width="1.0"><path d="M437.9 367.86L443.9 373.86M437.9 373.86L443.9 367.86" stroke="#eea020"/><path d="M461.12 336.37L467.12 342.37M461.12 342.37L467.12 336.37" stroke="#eea020"/><path d="M484.34 312.83L490.34 318.83M484.34 318.83L490.34 312.83" stroke="#eea020"/><path d="M507.56 302.33L513.56 308.33M507.56 308.33L513.56 302.33" stroke="#eea020"/><path d="M530.78 297.56L536.78 303.56M530.78 303.56L536.78 297.56" stroke="#eea020"/><path d="M554 294.7L560 300.7M554 300.7L560 294.7" stroke="#eea020"/><path d="M577.22 293.75L583.22 299.75M577.22 299.75L583.22 293.75" stroke="#eea020"/><path d="M600.44 293.75L606.44 299.75M600.44 299.75L606.44 293.75" stroke="#eea020"/><path d="M623.66 294.7L629.66 300.7M623.66 300.7L629.66 294.7" stroke="#eea020"/><path d="M646.88 298.52L652.88 304.52M646.88 304.52L652.88 298.52" stroke="#eea020"/><path d="M670.1 302.02L676.1 308.02M670.1 308.02L676.1 302.02" stroke="#eea020"/></g>
<path d="M446.5 367.29L458.52 357.57M468.69 347.48L482.77 330.3M488.93 317.72L508.97 229.01M512.57 215.08L531.77 149.06M538.08 136.37L552.7 116.75M563.49 107.86L573.73 102.95M587.19 98.03L596.47 95.61M610.25 91.46L619.85 88.18M633.84 85.35L642.7 84.75M657.08 84.16L665.9 84.03" stroke="#1ec81e" stroke-width="1.1" fill="none"/>
<path d="M435.9 370.44H445.9M435.9 373.19H445.9M440.9 370.44V373.19M459.12 351.21H469.12M459.12 354.89H469.12M464.12 351.21V354.89M482.34 322.34H492.34M482.34 327.14H492.34M487.34 322.34V327.14M505.56 218.93H515.56M505.56 225.05H515.56M510.56 218.93V225.05M528.78 140.08H538.78M528.78 144.22H538.78M533.78 140.08V144.22M552 109.65H562M552 112.3H562M557 109.65V112.3M575.22 98.83H585.22M575.22 100.85H585.22M580.22 98.83V100.85M598.44 92.97H608.44M598.44 94.63H608.44M603.44 92.97V94.63M621.66 85.24H631.66M621.66 86.44H631.66M626.66 85.24V86.44" stroke="#1ec81e" stroke-width="0.8" fill="none"/>
<g stroke-width="1.0"><polygon points="436.66,371.82 440.9,367.57 445.14,371.82 440.9,376.06" fill="none" stroke="#1ec81e"/><polygon points="459.88,353.05 464.12,348.81 468.36,353.05 464.12,357.29" fill="none" stroke="#1ec81e"/><polygon points="483.1,324.74 487.34,320.5 491.58,324.74 487.34,328.98" fill="none" stroke="#1ec81e"/><polygon points="506.32,221.99 510.56,217.75 514.8,221.99 510.56,226.23" fill="none" stroke="#1ec81e"/><polygon points="529.54,142.15 533.78,137.91 538.02,142.15 533.78,146.39" fill="none" stroke="#1ec81e"/><polygon points="552.76,110.97 557,106.73 561.24,110.97 557,115.22" fill="none" stroke="#1ec81e"/><polygon points="575.98,99.84 580.22,95.6 584.46,99.84 580.22,104.08" fill="none" stroke="#1ec81e"/><polygon points="599.2,93.8 603.44,89.55 607.68,93.8 603.44,98.04" fill="none" stroke="#1ec81e"/><polygon points="622.42,85.84 626.66,81.6 630.9,85.84 626.66,90.09" fill="none" stroke="#1ec81e"/><polygon points="645.64,84.25 649.88,80.01 654.12,84.25 649.88,88.5" fill="none" stroke="#1ec81e"/><polygon points="668.86,83.94 673.1,79.69 677.34,83.94 673.1,88.18" fill="none" stroke="#1ec81e"/></g>
<path d="M446.54 366.38L458.48 356.89M467.29 345.95L484.17 311.48M488.84 297.97L509.06 203.27M512.84 189.39L531.5 133.39M538.98 121.58L551.8 109.28M563.46 101.11L573.76 96.03M587.41 92.45L596.25 91.96M610.38 89.67L619.72 87.11M633.84 84.72L642.7 84.11M657.08 83.52L665.9 83.4" stroke="#1a8c1a" stroke-width="1.1" fill="none"/>
<path d="M435.9 369.46H445.9M435.9 372.26H445.9M440.9 369.46V372.26M459.12 350.56H469.12M459.12 354.27H469.12M464.12 350.56V354.27M482.34 302.32H492.34M482.34 307.71H492.34M487.34 302.32V307.71M505.56 193.34H515.56M505.56 199.11H515.56M510.56 193.34V199.11M528.78 124.84H538.78M528.78 128.28H538.78M533.78 124.84V128.28M552 103.15H562M552 105.44H562M557 103.15V105.44M575.22 92.04H585.22M575.22 93.65H585.22M580.22 92.04V93.65M598.44 90.81H608.44M598.44 92.33H608.44M603.44 90.81V92.33M621.66 84.61H631.66M621.66 85.81H631.66M626.66 84.61V85.81" stroke="#1a8c1a" stroke-width="0.8" fill="none"/>
<g stroke-width="1.0"><polygon points="440.9,375.53 444.94,368.53 436.86,368.53" fill="none" stroke="#1a8c1a"/><polygon points="464.12,357.08 468.16,350.08 460.08,350.08" fill="none" stroke="#1a8c1a"/><polygon points="487.34,309.68 491.38,302.68 483.3,302.68" fill="none" stroke="#1a8c1a"/><polygon points="510.56,200.89 514.6,193.89 506.52,193.89" fill="none" stroke="#1a8c1a"/><polygon points="533.78,131.23 537.82,124.23 529.74,124.23" fill="none" stroke="#1a8c1a"/><polygon points="557,108.96 561.04,101.96 552.96,101.96" fill="none" stroke="#1a8c1a"/><polygon points="580.22,97.51 584.26,90.51 576.18,90.51" fill="none" stroke="#1a8c1a"/><polygon points="603.44,96.24 607.48,89.24 599.4,89.24" fill="none" stroke="#1a8c1a"/><polygon points="626.66,89.87 630.7,82.88 622.62,82.88" fill="none" stroke="#1a8c1a"/><polygon points="649.88,88.28 653.92,81.29 645.84,81.29" fill="none" stroke="#1a8c1a"/><polygon points="673.1,87.97 677.14,80.97 669.06,80.97" fill="none" stroke="#1a8c1a"/></g>
<path d="M442.63 185.1L462.39 105.24M470.68 95.28L480.78 90.72M494.49 86.87L503.41 85.77M517.75 84.59L526.59 84.23M540.98 83.84L549.8 83.72M564.2 83.62L573.02 83.62M587.42 83.62L596.24 83.62M610.64 83.62L619.46 83.62M633.86 83.62L642.68 83.62M657.08 83.62L665.9 83.62" stroke="#87ceeb" stroke-width="1.1" fill="none"/>
<path d="M435.9 191.49H445.9M435.9 192.69H445.9M440.9 191.49V192.69M459.12 97.65H469.12M459.12 98.85H469.12M464.12 97.65V98.85" stroke="#87ceeb" stroke-width="0.8" fill="none"/>
<g stroke-width="1.0"><rect x="437.9" y="189.09" width="6" height="6" fill="none" stroke="#87ceeb"/><path d="M437.9 189.09L443.9 195.09M437.9 195.09L443.9 189.09" stroke="#87ceeb"/><rect x="461.12" y="95.25" width="6" height="6" fill="none" stroke="#87ceeb"/><path d="M461.12 95.25L467.12 101.25M461.12 101.25L467.12 95.25" stroke="#87ceeb"/><rect x="484.34" y="84.75" width="6" height="6" fill="none" stroke="#87ceeb"/><path d="M484.34 84.75L490.34 90.75M484.34 90.75L490.34 84.75" stroke="#87ceeb"/><rect x="507.56" y="81.89" width="6" height="6" fill="none" stroke="#87ceeb"/><path d="M507.56 81.89L513.56 87.89M507.56 87.89L513.56 81.89" stroke="#87ceeb"/><rect x="530.78" y="80.94" width="6" height="6" fill="none" stroke="#87ceeb"/><path d="M530.78 80.94L536.78 86.94M530.78 86.94L536.78 80.94" stroke="#87ceeb"/><rect x="554" y="80.62" width="6" height="6" fill="none" stroke="#87ceeb"/><path d="M554 80.62L560 86.62M554 86.62L560 80.62" stroke="#87ceeb"/><rect x="577.22" y="80.62" width="6" height="6" fill="none" stroke="#87ceeb"/><path d="M577.22 80.62L583.22 86.62M577.22 86.62L583.22 80.62" stroke="#87ceeb"/><rect x="600.44" y="80.62" width="6" height="6" fill="none" stroke="#87ceeb"/><path d="M600.44 80.62L606.44 86.62M600.44 86.62L606.44 80.62" stroke="#87ceeb"/><rect x="623.66" y="80.62" width="6" height="6" fill="none" stroke="#87ceeb"/><path d="M623.66 80.62L629.66 86.62M623.66 86.62L629.66 80.62" stroke="#87ceeb"/><rect x="646.88" y="80.62" width="6" height="6" fill="none" stroke="#87ceeb"/><path d="M646.88 80.62L652.88 86.62M646.88 86.62L652.88 80.62" stroke="#87ceeb"/><rect x="670.1" y="80.62" width="6" height="6" fill="none" stroke="#87ceeb"/><path d="M670.1 80.62L676.1 86.62M670.1 86.62L676.1 80.62" stroke="#87ceeb"/></g>
<path d="M442.23 358.06L462.79 249.11M466.01 235.08L485.45 163.41M492.23 151.17L505.67 136.62M517.19 128.52L527.15 124.29M540.87 120.21L549.91 118.6M564.15 116.46L573.07 115.35M587.41 114.18L596.25 113.82M610.56 112.45L619.54 111.09M633.85 109.63L642.69 109.14M657.08 108.55L665.9 108.31" stroke="#0a0ad2" stroke-width="1.1" fill="none"/>
<path d="M435.9 364.54H445.9M435.9 365.74H445.9M440.9 364.54V365.74M459.12 241.43H469.12M459.12 242.63H469.12M464.12 241.43V242.63M482.34 155.86H492.34M482.34 157.06H492.34M487.34 155.86V157.06M505.56 130.73H515.56M505.56 131.93H515.56M510.56 130.73V131.93M528.78 120.87H538.78M528.78 122.07H538.78M533.78 120.87V122.07M552 116.74H562M552 117.94H562M557 116.74V117.94M575.22 113.87H585.22M575.22 115.07H585.22M580.22 113.87V115.07M598.44 112.92H608.44M598.44 114.12H608.44M603.44 112.92V114.12M621.66 109.42H631.66M621.66 110.62H631.66M626.66 109.42V110.62M644.88 108.15H654.88M644.88 109.35H654.88M649.88 108.15V109.35M668.1 107.51H678.1M668.1 108.71H678.1M673.1 107.51V108.71" stroke="#0a0ad2" stroke-width="0.8" fill="none"/>
<g stroke-width="1.0"><path d="M436.66 365.14H445.14M440.9 360.89V369.38M437.9 362.14L443.9 368.14M437.9 368.14L443.9 362.14" stroke="#0a0ad2"/><path d="M459.88 242.03H468.36M464.12 237.79V246.27M461.12 239.03L467.12 245.03M461.12 245.03L467.12 239.03" stroke="#0a0ad2"/><path d="M483.1 156.46H491.58M487.34 152.22V160.71M484.34 153.46L490.34 159.46M484.34 159.46L490.34 153.46" stroke="#0a0ad2"/><path d="M506.32 131.33H514.8M510.56 127.09V135.58M507.56 128.33L513.56 134.33M507.56 134.33L513.56 128.33" stroke="#0a0ad2"/><path d="M529.54 121.47H538.02M533.78 117.23V125.71M530.78 118.47L536.78 124.47M530.78 124.47L536.78 118.47" stroke="#0a0ad2"/><path d="M552.76 117.34H561.24M557 113.09V121.58M554 114.34L560 120.34M554 120.34L560 114.34" stroke="#0a0ad2"/><path d="M575.98 114.47H584.46M580.22 110.23V118.72M577.22 111.47L583.22 117.47M577.22 117.47L583.22 111.47" stroke="#0a0ad2"/><path d="M599.2 113.52H607.68M603.44 109.28V117.76M600.44 110.52L606.44 116.52M600.44 116.52L606.44 110.52" stroke="#0a0ad2"/><path d="M622.42 110.02H630.9M626.66 105.78V114.26M623.66 107.02L629.66 113.02M623.66 113.02L629.66 107.02" stroke="#0a0ad2"/><path d="M645.64 108.75H654.12M649.88 104.51V112.99M646.88 105.75L652.88 111.75M646.88 111.75L652.88 105.75" stroke="#0a0ad2"/><path d="M668.86 108.11H677.34M673.1 103.87V112.35M670.1 105.11L676.1 111.11M670.1 111.11L676.1 105.11" stroke="#0a0ad2"/></g>
<path d="M442.43 300.21L462.59 207.4M466.28 193.49L485.18 133.43M492.4 121.44L505.5 108.15M517.48 101.03L526.86 98.33M540.94 95.56L549.84 94.58M564.19 93.5L573.03 93.14M587.42 92.65L596.24 92.4M610.64 92.01L619.46 91.77M633.86 91.77L642.68 92.01M657.08 92.4L665.9 92.65" stroke="#8030c8" stroke-width="1.1" fill="none"/>
<path d="M435.9 306.64H445.9M435.9 307.84H445.9M440.9 306.64V307.84M459.12 199.76H469.12M459.12 200.96H469.12M464.12 199.76V200.96M482.34 125.96H492.34M482.34 127.16H492.34M487.34 125.96V127.16M505.56 102.42H515.56M505.56 103.62H515.56M510.56 102.42V103.62M528.78 95.74H538.78M528.78 96.94H538.78M533.78 95.74V96.94M552 93.2H562M552 94.4H562M557 93.2V94.4M575.22 92.24H585.22M575.22 93.44H585.22M580.22 92.24V93.44M598.44 91.61H608.44M598.44 92.81H608.44M603.44 91.61V92.81M621.66 90.97H631.66M621.66 92.17H631.66M626.66 90.97V92.17M644.88 91.61H654.88M644.88 92.81H654.88M649.88 91.61V92.81M668.1 92.24H678.1M668.1 93.44H678.1M673.1 92.24V93.44" stroke="#8030c8" stroke-width="0.8" fill="none"/>
<g stroke-width="1.0"><polygon points="436.66,307.24 440.9,303 445.14,307.24 440.9,311.49" fill="none" stroke="#8030c8"/><path d="M436.66 307.24H445.14M440.9 303V311.49" stroke="#8030c8"/><polygon points="459.88,200.36 464.12,196.12 468.36,200.36 464.12,204.6" fill="none" stroke="#8030c8"/><path d="M459.88 200.36H468.36M464.12 196.12V204.6" stroke="#8030c8"/><polygon points="483.1,126.56 487.34,122.32 491.58,126.56 487.34,130.8" fill="none" stroke="#8030c8"/><path d="M483.1 126.56H491.58M487.34 122.32V130.8" stroke="#8030c8"/><polygon points="506.32,103.02 510.56,98.78 514.8,103.02 510.56,107.26" fill="none" stroke="#8030c8"/><path d="M506.32 103.02H514.8M510.56 98.78V107.26" stroke="#8030c8"/><polygon points="529.54,96.34 533.78,92.1 538.02,96.34 533.78,100.58" fill="none" stroke="#8030c8"/><path d="M529.54 96.34H538.02M533.78 92.1V100.58" stroke="#8030c8"/><polygon points="552.76,93.8 557,89.55 561.24,93.8 557,98.04" fill="none" stroke="#8030c8"/><path d="M552.76 93.8H561.24M557 89.55V98.04" stroke="#8030c8"/><polygon points="575.98,92.84 580.22,88.6 584.46,92.84 580.22,97.09" fill="none" stroke="#8030c8"/><path d="M575.98 92.84H584.46M580.22 88.6V97.09" stroke="#8030c8"/><polygon points="599.2,92.21 603.44,87.96 607.68,92.21 603.44,96.45" fill="none" stroke="#8030c8"/><path d="M599.2 92.21H607.68M603.44 87.96V96.45" stroke="#8030c8"/><polygon points="622.42,91.57 626.66,87.33 630.9,91.57 626.66,95.81" fill="none" stroke="#8030c8"/><path d="M622.42 91.57H630.9M626.66 87.33V95.81" stroke="#8030c8"/><polygon points="645.64,92.21 649.88,87.96 654.12,92.21 649.88,96.45" fill="none" stroke="#8030c8"/><path d="M645.64 92.21H654.12M649.88 87.96V96.45" stroke="#8030c8"/><polygon points="668.86,92.84 673.1,88.6 677.34,92.84 673.1,97.09" fill="none" stroke="#8030c8"/><path d="M668.86 92.84H677.34M673.1 88.6V97.09" stroke="#8030c8"/></g>
<path d="M447.1 369.12L457.92 362.75M470.21 355.25L481.25 348.3M493.13 340.18L504.77 331.56M516.46 323.16L527.88 315.18M539.64 306.88L551.14 298.7M563.02 290.56L574.2 283.21M585.93 274.87L597.73 265.82M605.52 254.54L624.58 191.35M630.12 178.14L646.42 148.46M655.55 137.72L667.43 128.45" stroke="#d8609a" stroke-width="1.1" fill="none"/>
<path d="M435.9 372.17H445.9M435.9 373.37H445.9M440.9 372.17V373.37M459.12 358.49H469.12M459.12 359.69H469.12M464.12 358.49V359.69M482.34 343.86H492.34M482.34 345.06H492.34M487.34 343.86V345.06M505.56 326.68H515.56M505.56 327.88H515.56M510.56 326.68V327.88M528.78 310.46H538.78M528.78 311.66H538.78M533.78 310.46V311.66M552 293.92H562M552 295.12H562M557 293.92V295.12M575.22 278.65H585.22M575.22 279.85H585.22M580.22 278.65V279.85M598.44 260.84H608.44M598.44 262.04H608.44M603.44 260.84V262.04M621.66 183.86H631.66M621.66 185.06H631.66M626.66 183.86V185.06M644.88 140.95H654.88M644.88 143.35H654.88M649.88 140.95V143.35M668.1 122.22H678.1M668.1 125.82H678.1M673.1 122.22V125.82" stroke="#d8609a" stroke-width="0.8" fill="none"/>
<g stroke-width="1.0"><circle cx="440.9" cy="372.77" r="3" fill="none" stroke="#d8609a"/><path d="M437.9 372.77H443.9M440.9 369.77V375.77" stroke="#d8609a"/><circle cx="464.12" cy="359.09" r="3" fill="none" stroke="#d8609a"/><path d="M461.12 359.09H467.12M464.12 356.09V362.09" stroke="#d8609a"/><circle cx="487.34" cy="344.46" r="3" fill="none" stroke="#d8609a"/><path d="M484.34 344.46H490.34M487.34 341.46V347.46" stroke="#d8609a"/><circle cx="510.56" cy="327.28" r="3" fill="none" stroke="#d8609a"/><path d="M507.56 327.28H513.56M510.56 324.28V330.28" stroke="#d8609a"/><circle cx="533.78" cy="311.06" r="3" fill="none" stroke="#d8609a"/><path d="M530.78 311.06H536.78M533.78 308.06V314.06" stroke="#d8609a"/><circle cx="557" cy="294.52" r="3" fill="none" stroke="#d8609a"/><path d="M554 294.52H560M557 291.52V297.52" stroke="#d8609a"/><circle cx="580.22" cy="279.25" r="3" fill="none" stroke="#d8609a"/><path d="M577.22 279.25H583.22M580.22 276.25V282.25" stroke="#d8609a"/><circle cx="603.44" cy="261.44" r="3" fill="none" stroke="#d8609a"/><path d="M600.44 261.44H606.44M603.44 258.44V264.44" stroke="#d8609a"/><circle cx="626.66" cy="184.46" r="3" fill="none" stroke="#d8609a"/><path d="M623.66 184.46H629.66M626.66 181.46V187.46" stroke="#d8609a"/><circle cx="649.88" cy="142.15" r="3" fill="none" stroke="#d8609a"/><path d="M646.88 142.15H652.88M649.88 139.15V145.15" stroke="#d8609a"/><circle cx="673.1" cy="124.02" r="3" fill="none" stroke="#d8609a"/><path d="M670.1 124.02H676.1M673.1 121.02V127.02" stroke="#d8609a"/></g>
<rect x="132.8" y="471.5" width="251.2" height="344.3" fill="none" stroke="#000" stroke-width="1.5"/>
<path d="M125 802.9H132.8M125 739.18H132.8M125 675.46H132.8M125 611.74H132.8M125 548.02H132.8M125 484.3H132.8M141.9 815.8V824.2M165.17 815.8V824.2M188.44 815.8V824.2M211.71 815.8V824.2M234.98 815.8V824.2M258.25 815.8V824.2M281.52 815.8V824.2M304.79 815.8V824.2M328.06 815.8V824.2M351.33 815.8V824.2M374.6 815.8V824.2" stroke="#000" stroke-width="1.3" fill="none"/>
<text transform="translate(114.6,802.2) rotate(-90)" text-anchor="middle" class="yl">0.0</text>
<text transform="translate(114.6,738.48) rotate(-90)" text-anchor="middle" class="yl">0.2</text>
<text transform="translate(114.6,674.76) rotate(-90)" text-anchor="middle" class="yl">0.4</text>
<text transform="translate(114.6,611.04) rotate(-90)" text-anchor="middle" class="yl">0.6</text>
<text transform="translate(114.6,547.32) rotate(-90)" text-anchor="middle" class="yl">0.8</text>
<text transform="translate(114.6,483.6) rotate(-90)" text-anchor="middle" class="yl">1.0</text>
<text x="141.9" y="843.6" text-anchor="middle" class="xl">.25</text>
<text x="165.17" y="843.6" text-anchor="middle" class="xl">.50</text>
<text x="188.44" y="843.6" text-anchor="middle" class="xl">.75</text>
<text x="211.71" y="843.6" text-anchor="middle" class="xl">1.00</text>
<text x="234.98" y="843.6" text-anchor="middle" class="xl">1.25</text>
<text x="258.25" y="843.6" text-anchor="middle" class="xl">1.50</text>
<text x="281.52" y="843.6" text-anchor="middle" class="xl">1.75</text>
<text x="304.79" y="843.6" text-anchor="middle" class="xl">2.00</text>
<text x="328.06" y="843.6" text-anchor="middle" class="xl">3.00</text>
<text x="351.33" y="843.6" text-anchor="middle" class="xl">4.00</text>
<text x="374.6" y="843.6" text-anchor="middle" class="xl">5.00</text>
<path d="M149.1 484.3L157.97 484.3M172.36 484.6L181.25 484.96M195.36 487.25L204.79 489.96M218.74 493.49L227.95 495.5M241.67 499.7L251.56 503.63M264.91 509.02L274.86 513.11M287.94 519.1L298.37 524.38M307.15 534.43L325.7 588.05M330.02 601.78L349.37 670.13M353.76 683.83L372.17 735.27" stroke="#000000" stroke-width="1.1" fill="none"/>
<path d="M206.71 491.35H216.71M206.71 492.55H216.71M211.71 491.35V492.55M229.98 496.44H239.98M229.98 497.64H239.98M234.98 496.44V497.64M253.25 505.68H263.25M253.25 506.88H263.25M258.25 505.68V506.88M276.52 515.24H286.52M276.52 516.44H286.52M281.52 515.24V516.44M299.79 527.03H309.79M299.79 528.23H309.79M304.79 527.03V528.23M323.06 594.25H333.06M323.06 595.45H333.06M328.06 594.25V595.45M346.33 676.45H356.33M346.33 677.65H356.33M351.33 676.45V677.65M369.6 741.45H379.6M369.6 742.65H379.6M374.6 741.45V742.65" stroke="#000000" stroke-width="0.8" fill="none"/>
<g stroke-width="1.0"><rect x="139.24" y="481.64" width="5.32" height="5.32" fill="none" stroke="#000000"/><rect x="162.51" y="481.64" width="5.32" height="5.32" fill="none" stroke="#000000"/><rect x="185.78" y="482.6" width="5.32" height="5.32" fill="none" stroke="#000000"/><rect x="209.05" y="489.29" width="5.32" height="5.32" fill="none" stroke="#000000"/><rect x="232.32" y="494.39" width="5.32" height="5.32" fill="none" stroke="#000000"/><rect x="255.59" y="503.63" width="5.32" height="5.32" fill="none" stroke="#000000"/><rect x="278.86" y="513.18" width="5.32" height="5.32" fill="none" stroke="#000000"/><rect x="302.13" y="524.97" width="5.32" height="5.32" fill="none" stroke="#000000"/><rect x="325.4" y="592.2" width="5.32" height="5.32" fill="none" stroke="#000000"/><rect x="348.67" y="674.39" width="5.32" height="5.32" fill="none" stroke="#000000"/><rect x="371.94" y="739.39" width="5.32" height="5.32" fill="none" stroke="#000000"/></g>
<path d="M149.1 484.3L157.97 484.3M172.37 484.3L181.24 484.3M195.64 484.4L204.51 484.52M218.91 484.72L227.78 484.84M242.17 485.23L251.06 485.6M265.43 486.38L274.34 486.99M288.65 488.46L297.66 489.7M310.92 494.45L321.93 501.23M334.3 508.6L345.09 514.8M357.31 522.4L368.62 529.99" stroke="#78889a" stroke-width="1.1" fill="none"/>
<path d="M276.52 486.89H286.52M276.52 488.09H286.52M281.52 486.89V488.09M299.79 490.07H309.79M299.79 491.27H309.79M304.79 490.07V491.27M323.06 504.41H333.06M323.06 505.61H333.06M328.06 504.41V505.61M346.33 517.79H356.33M346.33 518.99H356.33M351.33 517.79V518.99M369.6 533.4H379.6M369.6 534.6H379.6M374.6 533.4V534.6" stroke="#78889a" stroke-width="0.8" fill="none"/>
<g stroke-width="1.0"><circle cx="141.9" cy="484.3" r="3" fill="none" stroke="#78889a"/><circle cx="165.17" cy="484.3" r="3" fill="none" stroke="#78889a"/><circle cx="188.44" cy="484.3" r="3" fill="none" stroke="#78889a"/><circle cx="211.71" cy="484.62" r="3" fill="none" stroke="#78889a"/><circle cx="234.98" cy="484.94" r="3" fill="none" stroke="#78889a"/><circle cx="258.25" cy="485.89" r="3" fill="none" stroke="#78889a"/><circle cx="281.52" cy="487.49" r="3" fill="none" stroke="#78889a"/><circle cx="304.79" cy="490.67" r="3" fill="none" stroke="#78889a"/><circle cx="328.06" cy="505.01" r="3" fill="none" stroke="#78889a"/><circle cx="351.33" cy="518.39" r="3" fill="none" stroke="#78889a"/><circle cx="374.6" cy="534" r="3" fill="none" stroke="#78889a"/></g>
<path d="M149.1 484.3L157.97 484.3M172.37 484.3L181.24 484.3M195.64 484.4L204.51 484.52M218.91 484.82L227.78 485.06M242.17 485.65L251.06 486.14M265.44 486.83L274.33 487.19M288.67 488.37L297.64 489.47M311.18 493.68L321.67 499.14M333.22 507.48L346.17 520.06M355.1 531.22L370.83 556.86" stroke="#8c1c24" stroke-width="1.1" fill="none"/>
<path d="M253.25 485.93H263.25M253.25 487.13H263.25M258.25 485.93V487.13M276.52 486.89H286.52M276.52 488.09H286.52M281.52 486.89V488.09M299.79 489.75H309.79M299.79 490.95H309.79M304.79 489.75V490.95M323.06 501.86H333.06M323.06 503.06H333.06M328.06 501.86V503.06M346.33 524.48H356.33M346.33 525.68H356.33M351.33 524.48V525.68M369.6 562.39H379.6M369.6 563.59H379.6M374.6 562.39V563.59" stroke="#8c1c24" stroke-width="0.8" fill="none"/>
<g stroke-width="1.0"><polygon points="141.9,479.63 145.94,486.63 137.86,486.63" fill="none" stroke="#8c1c24"/><polygon points="165.17,479.63 169.21,486.63 161.13,486.63" fill="none" stroke="#8c1c24"/><polygon points="188.44,479.63 192.48,486.63 184.4,486.63" fill="none" stroke="#8c1c24"/><polygon points="211.71,479.95 215.75,486.95 207.67,486.95" fill="none" stroke="#8c1c24"/><polygon points="234.98,480.59 239.02,487.59 230.94,487.59" fill="none" stroke="#8c1c24"/><polygon points="258.25,481.86 262.29,488.86 254.21,488.86" fill="none" stroke="#8c1c24"/><polygon points="281.52,482.82 285.56,489.82 277.48,489.82" fill="none" stroke="#8c1c24"/><polygon points="304.79,485.69 308.83,492.69 300.75,492.69" fill="none" stroke="#8c1c24"/><polygon points="328.06,497.79 332.1,504.79 324.02,504.79" fill="none" stroke="#8c1c24"/><polygon points="351.33,520.42 355.37,527.41 347.29,527.41" fill="none" stroke="#8c1c24"/><polygon points="374.6,558.33 378.64,565.33 370.56,565.33" fill="none" stroke="#8c1c24"/></g>
<path d="M149.1 484.3L157.97 484.3M172.37 484.3L181.24 484.3M195.64 484.5L204.51 484.74M218.9 485.23L227.79 485.6M242.16 486.38L251.07 486.99M265.43 488.08L274.34 488.81M288.44 491.39L297.87 494.1M310.1 500.96L322.75 512.57M333.4 522.26L345.99 533.63M356.35 543.62L369.58 557.2" stroke="#e81c1c" stroke-width="1.1" fill="none"/>
<path d="M253.25 486.89H263.25M253.25 488.09H263.25M258.25 486.89V488.09M276.52 488.8H286.52M276.52 490H286.52M281.52 488.8V490M299.79 495.49H309.79M299.79 496.69H309.79M304.79 495.49V496.69M323.06 516.83H333.06M323.06 518.03H333.06M328.06 516.83V518.03M346.33 537.86H356.33M346.33 539.06H356.33M351.33 537.86V539.06M369.6 561.76H379.6M369.6 562.96H379.6M374.6 561.76V562.96" stroke="#e81c1c" stroke-width="0.8" fill="none"/>
<g stroke-width="1.0"><path d="M137.66 484.3H146.14M141.9 480.06V488.54" stroke="#e81c1c"/><path d="M160.93 484.3H169.41M165.17 480.06V488.54" stroke="#e81c1c"/><path d="M184.2 484.3H192.68M188.44 480.06V488.54" stroke="#e81c1c"/><path d="M207.47 484.94H215.95M211.71 480.69V489.18" stroke="#e81c1c"/><path d="M230.74 485.89H239.22M234.98 481.65V490.14" stroke="#e81c1c"/><path d="M254.01 487.49H262.49M258.25 483.24V491.73" stroke="#e81c1c"/><path d="M277.28 489.4H285.76M281.52 485.15V493.64" stroke="#e81c1c"/><path d="M300.55 496.09H309.03M304.79 491.85V500.33" stroke="#e81c1c"/><path d="M323.82 517.43H332.3M328.06 513.19V521.68" stroke="#e81c1c"/><path d="M347.09 538.46H355.57M351.33 534.22V542.7" stroke="#e81c1c"/><path d="M370.36 562.36H378.84M374.6 558.11V566.6" stroke="#e81c1c"/></g>
<path d="M149.1 484.3L157.97 484.3M172.36 484.6L181.25 484.96M195.6 486.04L204.55 487.02M218.63 489.79L228.06 492.51M242.07 495.76L251.16 497.38M265.22 500.45L274.55 502.88M288.44 506.68L297.87 509.39M309.12 517.13L323.73 536.53M331.83 548.42L347.56 574.06M354.7 586.56L371.23 617.8" stroke="#eea020" stroke-width="1.1" fill="none"/>
<path d="M206.71 487.2H216.71M206.71 488.4H216.71M211.71 487.2V488.4M229.98 493.9H239.98M229.98 495.1H239.98M234.98 493.9V495.1M253.25 498.04H263.25M253.25 499.24H263.25M258.25 498.04V499.24M276.52 504.09H286.52M276.52 505.29H286.52M281.52 504.09V505.29M299.79 510.78H309.79M299.79 511.98H309.79M304.79 510.78V511.98M323.06 541.69H333.06M323.06 542.89H333.06M328.06 541.69V542.89M346.33 579.6H356.33M346.33 580.8H356.33M351.33 579.6V580.8M369.6 623.57H379.6M369.6 624.77H379.6M374.6 623.57V624.77" stroke="#eea020" stroke-width="0.8" fill="none"/>
<g stroke-width="1.0"><path d="M138.9 481.3L144.9 487.3M138.9 487.3L144.9 481.3" stroke="#eea020"/><path d="M162.17 481.3L168.17 487.3M162.17 487.3L168.17 481.3" stroke="#eea020"/><path d="M185.44 482.26L191.44 488.26M185.44 488.26L191.44 482.26" stroke="#eea020"/><path d="M208.71 484.8L214.71 490.8M208.71 490.8L214.71 484.8" stroke="#eea020"/><path d="M231.98 491.5L237.98 497.5M231.98 497.5L237.98 491.5" stroke="#eea020"/><path d="M255.25 495.64L261.25 501.64M255.25 501.64L261.25 495.64" stroke="#eea020"/><path d="M278.52 501.69L284.52 507.69M278.52 507.69L284.52 501.69" stroke="#eea020"/><path d="M301.79 508.38L307.79 514.38M301.79 514.38L307.79 508.38" stroke="#eea020"/><path d="M325.06 539.29L331.06 545.29M325.06 545.29L331.06 539.29" stroke="#eea020"/><path d="M348.33 577.2L354.33 583.2M348.33 583.2L354.33 577.2" stroke="#eea020"/><path d="M371.6 621.17L377.6 627.17M371.6 627.17L377.6 621.17" stroke="#eea020"/></g>
<path d="M149.1 484.3L157.97 484.3M172.37 484.3L181.24 484.3M195.64 484.5L204.51 484.74M218.9 485.23L227.79 485.6M242.17 486.19L251.06 486.55M265.45 487.05L274.32 487.29M288.7 487.98L297.61 488.59M311.99 489.28L320.86 489.52M335.26 489.91L344.13 490.16M358.53 490.25L367.4 490.13" stroke="#1ec81e" stroke-width="1.1" fill="none"/>
<path d="M253.25 486.25H263.25M253.25 487.45H263.25M258.25 486.25V487.45M276.52 486.88H286.52M276.52 488.09H286.52M281.52 486.88V488.09M299.79 488.43H309.79M299.79 489.73H309.79M304.79 488.43V489.73M323.06 489.04H333.06M323.06 490.39H333.06M328.06 489.04V490.39M346.33 489.66H356.33M346.33 491.05H356.33M351.33 489.66V491.05M369.6 489.35H379.6M369.6 490.72H379.6M374.6 489.35V490.72" stroke="#1ec81e" stroke-width="0.8" fill="none"/>
<g stroke-width="1.0"><polygon points="137.66,484.3 141.9,480.06 146.14,484.3 141.9,488.54" fill="none" stroke="#1ec81e"/><polygon points="160.93,484.3 165.17,480.06 169.41,484.3 165.17,488.54" fill="none" stroke="#1ec81e"/><polygon points="184.2,484.3 188.44,480.06 192.68,484.3 188.44,488.54" fill="none" stroke="#1ec81e"/><polygon points="207.47,484.94 211.71,480.69 215.95,484.94 211.71,489.18" fill="none" stroke="#1ec81e"/><polygon points="230.74,485.89 234.98,481.65 239.22,485.89 234.98,490.14" fill="none" stroke="#1ec81e"/><polygon points="254.01,486.85 258.25,482.61 262.49,486.85 258.25,491.09" fill="none" stroke="#1ec81e"/><polygon points="277.28,487.49 281.52,483.24 285.76,487.49 281.52,491.73" fill="none" stroke="#1ec81e"/><polygon points="300.55,489.08 304.79,484.84 309.03,489.08 304.79,493.32" fill="none" stroke="#1ec81e"/><polygon points="323.82,489.72 328.06,485.47 332.3,489.72 328.06,493.96" fill="none" stroke="#1ec81e"/><polygon points="347.09,490.35 351.33,486.11 355.57,490.35 351.33,494.6" fill="none" stroke="#1ec81e"/><polygon points="370.36,490.03 374.6,485.79 378.84,490.03 374.6,494.28" fill="none" stroke="#1ec81e"/></g>
<path d="M149.1 484.3L157.97 484.3M172.37 484.3L181.24 484.3M195.64 484.5L204.51 484.74M218.9 485.23L227.79 485.6M242.17 486.19L251.06 486.55M265.45 487.05L274.32 487.29M288.7 487.98L297.61 488.59M311.99 489.28L320.86 489.52M335.26 489.91L344.13 490.16M358.53 490.25L367.4 490.13" stroke="#1a8c1a" stroke-width="1.1" fill="none"/>
<path d="M253.25 486.25H263.25M253.25 487.45H263.25M258.25 486.25V487.45M276.52 486.88H286.52M276.52 488.09H286.52M281.52 486.88V488.09M299.79 488.43H309.79M299.79 489.73H309.79M304.79 488.43V489.73M323.06 489.04H333.06M323.06 490.39H333.06M328.06 489.04V490.39M346.33 489.66H356.33M346.33 491.05H356.33M351.33 489.66V491.05M369.6 489.35H379.6M369.6 490.72H379.6M374.6 489.35V490.72" stroke="#1a8c1a" stroke-width="0.8" fill="none"/>
<g stroke-width="1.0"><polygon points="141.9,488.97 145.94,481.97 137.86,481.97" fill="none" stroke="#1a8c1a"/><polygon points="165.17,488.97 169.21,481.97 161.13,481.97" fill="none" stroke="#1a8c1a"/><polygon points="188.44,488.97 192.48,481.97 184.4,481.97" fill="none" stroke="#1a8c1a"/><polygon points="211.71,489.6 215.75,482.6 207.67,482.6" fill="none" stroke="#1a8c1a"/><polygon points="234.98,490.56 239.02,483.56 230.94,483.56" fill="none" stroke="#1a8c1a"/><polygon points="258.25,491.51 262.29,484.52 254.21,484.52" fill="none" stroke="#1a8c1a"/><polygon points="281.52,492.15 285.56,485.15 277.48,485.15" fill="none" stroke="#1a8c1a"/><polygon points="304.79,493.74 308.83,486.75 300.75,486.75" fill="none" stroke="#1a8c1a"/><polygon points="328.06,494.38 332.1,487.38 324.02,487.38" fill="none" stroke="#1a8c1a"/><polygon points="351.33,495.02 355.37,488.02 347.29,488.02" fill="none" stroke="#1a8c1a"/><polygon points="374.6,494.7 378.64,487.7 370.56,487.7" fill="none" stroke="#1a8c1a"/></g>
<path d="M149.08 486.38L157.99 486.99M172.36 487.78L181.25 488.15M195.64 488.44L204.51 488.44M218.91 488.44L227.78 488.44M242.18 488.44L251.05 488.44M265.45 488.64L274.32 488.88M288.71 489.37L297.6 489.74M311.98 490.33L320.87 490.7M335.26 491.19L344.13 491.43M358.53 491.82L367.4 492.07" stroke="#87ceeb" stroke-width="1.1" fill="none"/>
<path d="M299.79 489.43H309.79M299.79 490.63H309.79M304.79 489.43V490.63M323.06 490.39H333.06M323.06 491.59H333.06M328.06 490.39V491.59M346.33 491.03H356.33M346.33 492.23H356.33M351.33 491.03V492.23M369.6 491.67H379.6M369.6 492.87H379.6M374.6 491.67V492.87" stroke="#87ceeb" stroke-width="0.8" fill="none"/>
<g stroke-width="1.0"><rect x="138.9" y="482.89" width="6" height="6" fill="none" stroke="#87ceeb"/><path d="M138.9 482.89L144.9 488.89M138.9 488.89L144.9 482.89" stroke="#87ceeb"/><rect x="162.17" y="484.49" width="6" height="6" fill="none" stroke="#87ceeb"/><path d="M162.17 484.49L168.17 490.49M162.17 490.49L168.17 484.49" stroke="#87ceeb"/><rect x="185.44" y="485.44" width="6" height="6" fill="none" stroke="#87ceeb"/><path d="M185.44 485.44L191.44 491.44M185.44 491.44L191.44 485.44" stroke="#87ceeb"/><rect x="208.71" y="485.44" width="6" height="6" fill="none" stroke="#87ceeb"/><path d="M208.71 485.44L214.71 491.44M208.71 491.44L214.71 485.44" stroke="#87ceeb"/><rect x="231.98" y="485.44" width="6" height="6" fill="none" stroke="#87ceeb"/><path d="M231.98 485.44L237.98 491.44M231.98 491.44L237.98 485.44" stroke="#87ceeb"/><rect x="255.25" y="485.44" width="6" height="6" fill="none" stroke="#87ceeb"/><path d="M255.25 485.44L261.25 491.44M255.25 491.44L261.25 485.44" stroke="#87ceeb"/><rect x="278.52" y="486.08" width="6" height="6" fill="none" stroke="#87ceeb"/><path d="M278.52 486.08L284.52 492.08M278.52 492.08L284.52 486.08" stroke="#87ceeb"/><rect x="301.79" y="487.03" width="6" height="6" fill="none" stroke="#87ceeb"/><path d="M301.79 487.03L307.79 493.03M301.79 493.03L307.79 487.03" stroke="#87ceeb"/><rect x="325.06" y="487.99" width="6" height="6" fill="none" stroke="#87ceeb"/><path d="M325.06 487.99L331.06 493.99M325.06 493.99L331.06 487.99" stroke="#87ceeb"/><rect x="348.33" y="488.63" width="6" height="6" fill="none" stroke="#87ceeb"/><path d="M348.33 488.63L354.33 494.63M348.33 494.63L354.33 488.63" stroke="#87ceeb"/><rect x="371.6" y="489.27" width="6" height="6" fill="none" stroke="#87ceeb"/><path d="M371.6 489.27L377.6 495.27M371.6 495.27L377.6 489.27" stroke="#87ceeb"/></g>
<path d="M148.99 487.47L158.08 489.09M171.89 492.93L181.72 496.7M194.68 502.86L205.47 509.07M218.13 515.91L228.56 521.19M242.01 525.98L251.22 528M265.35 530.71L274.42 532.2M288.7 533.95L297.61 534.69M311.68 537.35L321.17 540.21M334.3 545.87L345.09 552.08M356.56 560.61L369.37 572.71" stroke="#0a0ad2" stroke-width="1.1" fill="none"/>
<path d="M136.9 485.61H146.9M136.9 486.81H146.9M141.9 485.61V486.81M160.17 489.75H170.17M160.17 490.95H170.17M165.17 489.75V490.95M183.44 498.67H193.44M183.44 499.87H193.44M188.44 498.67V499.87M206.71 512.06H216.71M206.71 513.26H216.71M211.71 512.06V513.26M229.98 523.84H239.98M229.98 525.04H239.98M234.98 523.84V525.04M253.25 528.94H263.25M253.25 530.14H263.25M258.25 528.94V530.14M276.52 532.76H286.52M276.52 533.96H286.52M281.52 532.76V533.96M299.79 534.68H309.79M299.79 535.88H309.79M304.79 534.68V535.88M323.06 541.69H333.06M323.06 542.89H333.06M328.06 541.69V542.89M346.33 555.07H356.33M346.33 556.27H356.33M351.33 555.07V556.27M369.6 577.05H379.6M369.6 578.25H379.6M374.6 577.05V578.25" stroke="#0a0ad2" stroke-width="0.8" fill="none"/>
<g stroke-width="1.0"><path d="M137.66 486.21H146.14M141.9 481.97V490.45M138.9 483.21L144.9 489.21M138.9 489.21L144.9 483.21" stroke="#0a0ad2"/><path d="M160.93 490.35H169.41M165.17 486.11V494.6M162.17 487.35L168.17 493.35M162.17 493.35L168.17 487.35" stroke="#0a0ad2"/><path d="M184.2 499.27H192.68M188.44 495.03V503.52M185.44 496.27L191.44 502.27M185.44 502.27L191.44 496.27" stroke="#0a0ad2"/><path d="M207.47 512.66H215.95M211.71 508.41V516.9M208.71 509.66L214.71 515.66M208.71 515.66L214.71 509.66" stroke="#0a0ad2"/><path d="M230.74 524.44H239.22M234.98 520.2V528.69M231.98 521.44L237.98 527.44M231.98 527.44L237.98 521.44" stroke="#0a0ad2"/><path d="M254.01 529.54H262.49M258.25 525.3V533.78M255.25 526.54L261.25 532.54M255.25 532.54L261.25 526.54" stroke="#0a0ad2"/><path d="M277.28 533.36H285.76M281.52 529.12V537.61M278.52 530.36L284.52 536.36M278.52 536.36L284.52 530.36" stroke="#0a0ad2"/><path d="M300.55 535.28H309.03M304.79 531.03V539.52M301.79 532.28L307.79 538.28M301.79 538.28L307.79 532.28" stroke="#0a0ad2"/><path d="M323.82 542.29H332.3M328.06 538.04V546.53M325.06 539.29L331.06 545.29M325.06 545.29L331.06 539.29" stroke="#0a0ad2"/><path d="M347.09 555.67H355.57M351.33 551.42V559.91M348.33 552.67L354.33 558.67M348.33 558.67L354.33 552.67" stroke="#0a0ad2"/><path d="M370.36 577.65H378.84M374.6 573.41V581.89M371.6 574.65L377.6 580.65M371.6 580.65L377.6 574.65" stroke="#0a0ad2"/></g>
<path d="M149.1 484.3L157.97 484.3M172.37 484.3L181.24 484.3M195.64 484.3L204.51 484.3M218.91 484.3L227.78 484.3M242.18 484.4L251.05 484.52M265.45 484.72L274.32 484.84M288.72 484.94L297.59 484.94M311.97 485.53L320.88 486.26M335.19 487.83L344.2 489.06M358.27 491.94L367.66 494.51" stroke="#8030c8" stroke-width="1.1" fill="none"/>
<path d="M323.06 486.25H333.06M323.06 487.45H333.06M328.06 486.25V487.45M346.33 489.43H356.33M346.33 490.63H356.33M351.33 489.43V490.63M369.6 495.81H379.6M369.6 497.01H379.6M374.6 495.81V497.01" stroke="#8030c8" stroke-width="0.8" fill="none"/>
<g stroke-width="1.0"><polygon points="137.66,484.3 141.9,480.06 146.14,484.3 141.9,488.54" fill="none" stroke="#8030c8"/><path d="M137.66 484.3H146.14M141.9 480.06V488.54" stroke="#8030c8"/><polygon points="160.93,484.3 165.17,480.06 169.41,484.3 165.17,488.54" fill="none" stroke="#8030c8"/><path d="M160.93 484.3H169.41M165.17 480.06V488.54" stroke="#8030c8"/><polygon points="184.2,484.3 188.44,480.06 192.68,484.3 188.44,488.54" fill="none" stroke="#8030c8"/><path d="M184.2 484.3H192.68M188.44 480.06V488.54" stroke="#8030c8"/><polygon points="207.47,484.3 211.71,480.06 215.95,484.3 211.71,488.54" fill="none" stroke="#8030c8"/><path d="M207.47 484.3H215.95M211.71 480.06V488.54" stroke="#8030c8"/><polygon points="230.74,484.3 234.98,480.06 239.22,484.3 234.98,488.54" fill="none" stroke="#8030c8"/><path d="M230.74 484.3H239.22M234.98 480.06V488.54" stroke="#8030c8"/><polygon points="254.01,484.62 258.25,480.38 262.49,484.62 258.25,488.86" fill="none" stroke="#8030c8"/><path d="M254.01 484.62H262.49M258.25 480.38V488.86" stroke="#8030c8"/><polygon points="277.28,484.94 281.52,480.69 285.76,484.94 281.52,489.18" fill="none" stroke="#8030c8"/><path d="M277.28 484.94H285.76M281.52 480.69V489.18" stroke="#8030c8"/><polygon points="300.55,484.94 304.79,480.69 309.03,484.94 304.79,489.18" fill="none" stroke="#8030c8"/><path d="M300.55 484.94H309.03M304.79 480.69V489.18" stroke="#8030c8"/><polygon points="323.82,486.85 328.06,482.61 332.3,486.85 328.06,491.09" fill="none" stroke="#8030c8"/><path d="M323.82 486.85H332.3M328.06 482.61V491.09" stroke="#8030c8"/><polygon points="347.09,490.03 351.33,485.79 355.57,490.03 351.33,494.28" fill="none" stroke="#8030c8"/><path d="M347.09 490.03H355.57M351.33 485.79V494.28" stroke="#8030c8"/><polygon points="370.36,496.41 374.6,492.16 378.84,496.41 374.6,500.65" fill="none" stroke="#8030c8"/><path d="M370.36 496.41H378.84M374.6 492.16V500.65" stroke="#8030c8"/></g>
<path d="M149.1 484.3L157.97 484.3M172.37 484.3L181.24 484.3M195.64 484.3L204.51 484.3M218.91 484.4L227.78 484.52M242.18 484.82L251.05 485.06M265.42 485.94L274.35 486.8M288.57 488.93L297.74 490.82M310.88 496.1L321.97 503.08M334.65 509.81L344.74 514.23M358.22 519.19L367.71 522.05" stroke="#d8609a" stroke-width="1.1" fill="none"/>
<path d="M276.52 486.89H286.52M276.52 488.09H286.52M281.52 486.89V488.09M299.79 491.67H309.79M299.79 492.87H309.79M304.79 491.67V492.87M323.06 506.32H333.06M323.06 507.52H333.06M328.06 506.32V507.52M346.33 516.52H356.33M346.33 517.72H356.33M351.33 516.52V517.72M369.6 523.52H379.6M369.6 524.73H379.6M374.6 523.52V524.73" stroke="#d8609a" stroke-width="0.8" fill="none"/>
<g stroke-width="1.0"><circle cx="141.9" cy="484.3" r="3" fill="none" stroke="#d8609a"/><path d="M138.9 484.3H144.9M141.9 481.3V487.3" stroke="#d8609a"/><circle cx="165.17" cy="484.3" r="3" fill="none" stroke="#d8609a"/><path d="M162.17 484.3H168.17M165.17 481.3V487.3" stroke="#d8609a"/><circle cx="188.44" cy="484.3" r="3" fill="none" stroke="#d8609a"/><path d="M185.44 484.3H191.44M188.44 481.3V487.3" stroke="#d8609a"/><circle cx="211.71" cy="484.3" r="3" fill="none" stroke="#d8609a"/><path d="M208.71 484.3H214.71M211.71 481.3V487.3" stroke="#d8609a"/><circle cx="234.98" cy="484.62" r="3" fill="none" stroke="#d8609a"/><path d="M231.98 484.62H237.98M234.98 481.62V487.62" stroke="#d8609a"/><circle cx="258.25" cy="485.26" r="3" fill="none" stroke="#d8609a"/><path d="M255.25 485.26H261.25M258.25 482.26V488.26" stroke="#d8609a"/><circle cx="281.52" cy="487.49" r="3" fill="none" stroke="#d8609a"/><path d="M278.52 487.49H284.52M281.52 484.49V490.49" stroke="#d8609a"/><circle cx="304.79" cy="492.27" r="3" fill="none" stroke="#d8609a"/><path d="M301.79 492.27H307.79M304.79 489.27V495.27" stroke="#d8609a"/><circle cx="328.06" cy="506.92" r="3" fill="none" stroke="#d8609a"/><path d="M325.06 506.92H331.06M328.06 503.92V509.92" stroke="#d8609a"/><circle cx="351.33" cy="517.12" r="3" fill="none" stroke="#d8609a"/><path d="M348.33 517.12H354.33M351.33 514.12V520.12" stroke="#d8609a"/><circle cx="374.6" cy="524.12" r="3" fill="none" stroke="#d8609a"/><path d="M371.6 524.12H377.6M374.6 521.12V527.12" stroke="#d8609a"/></g>
<rect x="432.1" y="472.5" width="251" height="343.8" fill="none" stroke="#000" stroke-width="1.5"/>
<path d="M424.3 803.6H432.1M424.3 739.92H432.1M424.3 676.24H432.1M424.3 612.56H432.1M424.3 548.88H432.1M424.3 485.2H432.1M441.4 816.3V824.7M464.64 816.3V824.7M487.88 816.3V824.7M511.12 816.3V824.7M534.36 816.3V824.7M557.6 816.3V824.7M580.84 816.3V824.7M604.08 816.3V824.7M627.32 816.3V824.7M650.56 816.3V824.7M673.8 816.3V824.7" stroke="#000" stroke-width="1.3" fill="none"/>
<text transform="translate(413.9,802.9) rotate(-90)" text-anchor="middle" class="yl">0.0</text>
<text transform="translate(413.9,739.22) rotate(-90)" text-anchor="middle" class="yl">0.2</text>
<text transform="translate(413.9,675.54) rotate(-90)" text-anchor="middle" class="yl">0.4</text>
<text transform="translate(413.9,611.86) rotate(-90)" text-anchor="middle" class="yl">0.6</text>
<text transform="translate(413.9,548.18) rotate(-90)" text-anchor="middle" class="yl">0.8</text>
<text transform="translate(413.9,484.5) rotate(-90)" text-anchor="middle" class="yl">1.0</text>
<text x="441.4" y="843.6" text-anchor="middle" class="xl">.25</text>
<text x="464.64" y="843.6" text-anchor="middle" class="xl">.50</text>
<text x="487.88" y="843.6" text-anchor="middle" class="xl">.75</text>
<text x="511.12" y="843.6" text-anchor="middle" class="xl">1.00</text>
<text x="534.36" y="843.6" text-anchor="middle" class="xl">1.25</text>
<text x="557.6" y="843.6" text-anchor="middle" class="xl">1.50</text>
<text x="580.84" y="843.6" text-anchor="middle" class="xl">1.75</text>
<text x="604.08" y="843.6" text-anchor="middle" class="xl">2.00</text>
<text x="627.32" y="843.6" text-anchor="middle" class="xl">3.00</text>
<text x="650.56" y="843.6" text-anchor="middle" class="xl">4.00</text>
<text x="673.8" y="843.6" text-anchor="middle" class="xl">5.00</text>
<path d="M448.55 486.08L457.49 487.18M471.48 490.31L481.04 493.46M494.3 498.96L504.7 504.23M517.25 511.27L528.23 518.04M540.26 525.94L551.7 533.93M563.69 541.89L574.75 548.86M586.74 556.82L598.18 564.82M606.22 575.81L625.18 636.57M629.6 650.28L648.28 706.34M653.76 719.62L670.6 753.53" stroke="#000000" stroke-width="1.1" fill="none"/>
<path d="M459.64 487.47H469.64M459.64 488.67H469.64M464.64 487.47V488.67M482.88 495.11H492.88M482.88 496.31H492.88M487.88 495.11V496.31M506.12 506.89H516.12M506.12 508.09H516.12M511.12 506.89V508.09M529.36 521.22H539.36M529.36 522.42H539.36M534.36 521.22V522.42M552.6 537.45H562.6M552.6 538.65H562.6M557.6 537.45V538.65M575.84 552.1H585.84M575.84 553.3H585.84M580.84 552.1V553.3M599.08 568.34H609.08M599.08 569.54H609.08M604.08 568.34V569.54M622.32 641.44H632.32M622.32 645.44H632.32M627.32 641.44V645.44M645.56 712.57H655.56M645.56 713.77H655.56M650.56 712.57V713.77M668.8 759.38H678.8M668.8 760.58H678.8M673.8 759.38V760.58" stroke="#000000" stroke-width="0.8" fill="none"/>
<g stroke-width="1.0"><rect x="438.74" y="482.54" width="5.32" height="5.32" fill="none" stroke="#000000"/><rect x="461.98" y="485.41" width="5.32" height="5.32" fill="none" stroke="#000000"/><rect x="485.22" y="493.05" width="5.32" height="5.32" fill="none" stroke="#000000"/><rect x="508.46" y="504.83" width="5.32" height="5.32" fill="none" stroke="#000000"/><rect x="531.7" y="519.16" width="5.32" height="5.32" fill="none" stroke="#000000"/><rect x="554.94" y="535.4" width="5.32" height="5.32" fill="none" stroke="#000000"/><rect x="578.18" y="550.04" width="5.32" height="5.32" fill="none" stroke="#000000"/><rect x="601.42" y="566.28" width="5.32" height="5.32" fill="none" stroke="#000000"/><rect x="624.66" y="640.79" width="5.32" height="5.32" fill="none" stroke="#000000"/><rect x="647.9" y="710.52" width="5.32" height="5.32" fill="none" stroke="#000000"/><rect x="671.14" y="757.32" width="5.32" height="5.32" fill="none" stroke="#000000"/></g>
<path d="M446.89 494L459.15 504.42M468.31 515.27L484.21 542.05M491.55 554.44L507.45 581.21M515.26 593.3L530.22 614.63M539.42 625.65L552.54 638.96M562.83 649.03L575.61 661.11M587.12 669.58L597.8 675.58M607.43 685.48L623.97 716.99M632.55 728.31L645.33 740.39M656.65 749.17L667.71 756.14" stroke="#78889a" stroke-width="1.1" fill="none"/>
<path d="M436.4 488.74H446.4M436.4 489.94H446.4M441.4 488.74V489.94M459.64 508.48H469.64M459.64 509.68H469.64M464.64 508.48V509.68M482.88 547.64H492.88M482.88 548.84H492.88M487.88 547.64V548.84M506.12 586.81H516.12M506.12 588.01H516.12M511.12 586.81V588.01M529.36 619.92H539.36M529.36 621.12H539.36M534.36 619.92V621.12M552.6 643.48H562.6M552.6 644.68H562.6M557.6 643.48V644.68M575.84 665.45H585.84M575.84 666.65H585.84M580.84 665.45V666.65M599.08 678.51H609.08M599.08 679.71H609.08M604.08 678.51V679.71M622.32 722.76H632.32M622.32 723.96H632.32M627.32 722.76V723.96M645.56 744.73H655.56M645.56 745.93H655.56M650.56 744.73V745.93M668.8 759.38H678.8M668.8 760.58H678.8M673.8 759.38V760.58" stroke="#78889a" stroke-width="0.8" fill="none"/>
<g stroke-width="1.0"><circle cx="441.4" cy="489.34" r="3" fill="none" stroke="#78889a"/><circle cx="464.64" cy="509.08" r="3" fill="none" stroke="#78889a"/><circle cx="487.88" cy="548.24" r="3" fill="none" stroke="#78889a"/><circle cx="511.12" cy="587.41" r="3" fill="none" stroke="#78889a"/><circle cx="534.36" cy="620.52" r="3" fill="none" stroke="#78889a"/><circle cx="557.6" cy="644.08" r="3" fill="none" stroke="#78889a"/><circle cx="580.84" cy="666.05" r="3" fill="none" stroke="#78889a"/><circle cx="604.08" cy="679.11" r="3" fill="none" stroke="#78889a"/><circle cx="627.32" cy="723.36" r="3" fill="none" stroke="#78889a"/><circle cx="650.56" cy="745.33" r="3" fill="none" stroke="#78889a"/><circle cx="673.8" cy="759.98" r="3" fill="none" stroke="#78889a"/></g>
<path d="M448.49 486.46L457.55 488.08M471.53 491.42L480.99 494.27M494.44 499.31L504.56 503.89M517.47 510.24L528.01 515.88M541.11 521.77L550.85 525.37M564.41 530.2L574.03 533.49M587.56 538.4L597.36 542.16M607.96 550.8L623.44 574.97M631.2 587.1L646.68 611.27M654.15 623.58L670.21 651.53" stroke="#8c1c24" stroke-width="1.1" fill="none"/>
<path d="M459.64 488.74H469.64M459.64 489.94H469.64M464.64 488.74V489.94M482.88 495.74H492.88M482.88 496.94H492.88M487.88 495.74V496.94M506.12 506.25H516.12M506.12 507.45H516.12M511.12 506.25V507.45M529.36 518.67H539.36M529.36 519.87H539.36M534.36 518.67V519.87M552.6 527.27H562.6M552.6 528.47H562.6M557.6 527.27V528.47M575.84 535.23H585.84M575.84 536.43H585.84M580.84 535.23V536.43M599.08 544.14H609.08M599.08 545.34H609.08M604.08 544.14V545.34M622.32 580.44H632.32M622.32 581.64H632.32M627.32 580.44V581.64M645.56 616.74H655.56M645.56 617.94H655.56M650.56 616.74V617.94M668.8 657.17H678.8M668.8 658.37H678.8M673.8 657.17V658.37" stroke="#8c1c24" stroke-width="0.8" fill="none"/>
<g stroke-width="1.0"><polygon points="441.4,480.53 445.44,487.53 437.36,487.53" fill="none" stroke="#8c1c24"/><polygon points="464.64,484.67 468.68,491.67 460.6,491.67" fill="none" stroke="#8c1c24"/><polygon points="487.88,491.68 491.92,498.68 483.84,498.68" fill="none" stroke="#8c1c24"/><polygon points="511.12,502.19 515.16,509.18 507.08,509.18" fill="none" stroke="#8c1c24"/><polygon points="534.36,514.6 538.4,521.6 530.32,521.6" fill="none" stroke="#8c1c24"/><polygon points="557.6,523.2 561.64,530.2 553.56,530.2" fill="none" stroke="#8c1c24"/><polygon points="580.84,531.16 584.88,538.16 576.8,538.16" fill="none" stroke="#8c1c24"/><polygon points="604.08,540.08 608.12,547.07 600.04,547.07" fill="none" stroke="#8c1c24"/><polygon points="627.32,576.37 631.36,583.37 623.28,583.37" fill="none" stroke="#8c1c24"/><polygon points="650.56,612.67 654.6,619.67 646.52,619.67" fill="none" stroke="#8c1c24"/><polygon points="673.8,653.11 677.84,660.11 669.76,660.11" fill="none" stroke="#8c1c24"/></g>
<path d="M448.57 485.89L457.47 486.74M471.65 489.06L480.87 491.21M494.8 494.83L504.2 497.54M517.96 501.78L527.52 504.92M540.92 510.14L551.04 514.71M564.26 520.41L574.18 524.49M587.73 529.31L597.19 532.16M608.24 540.11L623.16 561.15M631.48 572.9L646.4 593.95M654.32 605.96L670.04 631.58" stroke="#e81c1c" stroke-width="1.1" fill="none"/>
<path d="M459.64 486.83H469.64M459.64 488.03H469.64M464.64 486.83V488.03M482.88 492.24H492.88M482.88 493.44H492.88M487.88 492.24V493.44M506.12 498.93H516.12M506.12 500.13H516.12M511.12 498.93V500.13M529.36 506.57H539.36M529.36 507.77H539.36M534.36 506.57V507.77M552.6 517.08H562.6M552.6 518.28H562.6M557.6 517.08V518.28M575.84 526.63H585.84M575.84 527.83H585.84M580.84 526.63V527.83M599.08 533.63H609.08M599.08 534.83H609.08M604.08 533.63V534.83M622.32 566.43H632.32M622.32 567.63H632.32M627.32 566.43V567.63M645.56 599.22H655.56M645.56 600.42H655.56M650.56 599.22V600.42M668.8 637.11H678.8M668.8 638.31H678.8M673.8 637.11V638.31" stroke="#e81c1c" stroke-width="0.8" fill="none"/>
<g stroke-width="1.0"><path d="M437.16 485.2H445.64M441.4 480.96V489.44" stroke="#e81c1c"/><path d="M460.4 487.43H468.88M464.64 483.19V491.67" stroke="#e81c1c"/><path d="M483.64 492.84H492.12M487.88 488.6V497.08" stroke="#e81c1c"/><path d="M506.88 499.53H515.36M511.12 495.29V503.77" stroke="#e81c1c"/><path d="M530.12 507.17H538.6M534.36 502.93V511.41" stroke="#e81c1c"/><path d="M553.36 517.68H561.84M557.6 513.43V521.92" stroke="#e81c1c"/><path d="M576.6 527.23H585.08M580.84 522.99V531.47" stroke="#e81c1c"/><path d="M599.84 534.23H608.32M604.08 529.99V538.48" stroke="#e81c1c"/><path d="M623.08 567.03H631.56M627.32 562.79V571.27" stroke="#e81c1c"/><path d="M646.32 599.82H654.8M650.56 595.58V604.07" stroke="#e81c1c"/><path d="M669.56 637.71H678.04M673.8 633.47V641.96" stroke="#e81c1c"/></g>
<path d="M448.57 485.89L457.47 486.74M471.69 488.88L480.83 490.76M494.77 494.28L504.23 497.13M517.9 501.63L527.58 505.07M540.92 510.45L551.04 515.03M564.19 520.89L574.25 525.29M587.47 531L597.45 535.24M607.18 544.55L624.22 580.27M630.12 593.4L647.76 635.22M653.47 648.44L670.89 687.8" stroke="#eea020" stroke-width="1.1" fill="none"/>
<path d="M459.64 486.83H469.64M459.64 488.03H469.64M464.64 486.83V488.03M482.88 491.6H492.88M482.88 492.8H492.88M487.88 491.6V492.8M506.12 498.61H516.12M506.12 499.81H516.12M511.12 498.61V499.81M529.36 506.89H539.36M529.36 508.09H539.36M534.36 506.89V508.09M552.6 517.4H562.6M552.6 518.6H562.6M557.6 517.4V518.6M575.84 527.58H585.84M575.84 528.78H585.84M580.84 527.58V528.78M599.08 537.45H609.08M599.08 538.65H609.08M604.08 537.45V538.65M622.32 586.17H632.32M622.32 587.37H632.32M627.32 586.17V587.37M645.56 641.25H655.56M645.56 642.45H655.56M650.56 641.25V642.45M668.8 693.79H678.8M668.8 694.99H678.8M673.8 693.79V694.99" stroke="#eea020" stroke-width="0.8" fill="none"/>
<g stroke-width="1.0"><path d="M438.4 482.2L444.4 488.2M438.4 488.2L444.4 482.2" stroke="#eea020"/><path d="M461.64 484.43L467.64 490.43M461.64 490.43L467.64 484.43" stroke="#eea020"/><path d="M484.88 489.2L490.88 495.2M484.88 495.2L490.88 489.2" stroke="#eea020"/><path d="M508.12 496.21L514.12 502.21M508.12 502.21L514.12 496.21" stroke="#eea020"/><path d="M531.36 504.49L537.36 510.49M531.36 510.49L537.36 504.49" stroke="#eea020"/><path d="M554.6 515L560.6 521M554.6 521L560.6 515" stroke="#eea020"/><path d="M577.84 525.18L583.84 531.18M577.84 531.18L583.84 525.18" stroke="#eea020"/><path d="M601.08 535.05L607.08 541.05M601.08 541.05L607.08 535.05" stroke="#eea020"/><path d="M624.32 583.77L630.32 589.77M624.32 589.77L630.32 583.77" stroke="#eea020"/><path d="M647.56 638.85L653.56 644.85M647.56 644.85L653.56 638.85" stroke="#eea020"/><path d="M670.8 691.39L676.8 697.39M670.8 697.39L676.8 691.39" stroke="#eea020"/></g>
<path d="M448.59 485.5L457.45 485.86M471.8 486.94L480.72 487.92M495.05 489.39L503.95 490.24M518.32 491.13L527.16 491.37M541.56 491.57L550.4 491.57M564.8 491.57L573.64 491.57M588.04 491.57L596.88 491.57M611.28 491.57L620.12 491.57M634.52 491.67L643.36 491.79M657.76 491.89L666.6 491.89" stroke="#1ec81e" stroke-width="1.1" fill="none"/>
<path d="M482.88 488.09H492.88M482.88 489.32H492.88M487.88 488.09V489.32M506.12 490.25H516.12M506.12 491.62H516.12M511.12 490.25V491.62M529.36 490.86H539.36M529.36 492.27H539.36M534.36 490.86V492.27M552.6 490.86H562.6M552.6 492.27H562.6M557.6 490.86V492.27M575.84 490.86H585.84M575.84 492.27H585.84M580.84 490.86V492.27M599.08 490.86H609.08M599.08 492.27H609.08M604.08 490.86V492.27M622.32 490.86H632.32M622.32 492.27H632.32M627.32 490.86V492.27M645.56 491.17H655.56M645.56 492.6H655.56M650.56 491.17V492.6M668.8 491.17H678.8M668.8 492.6H678.8M673.8 491.17V492.6" stroke="#1ec81e" stroke-width="0.8" fill="none"/>
<g stroke-width="1.0"><polygon points="437.16,485.2 441.4,480.96 445.64,485.2 441.4,489.44" fill="none" stroke="#1ec81e"/><polygon points="460.4,486.16 464.64,481.91 468.88,486.16 464.64,490.4" fill="none" stroke="#1ec81e"/><polygon points="483.64,488.7 487.88,484.46 492.12,488.7 487.88,492.95" fill="none" stroke="#1ec81e"/><polygon points="506.88,490.93 511.12,486.69 515.36,490.93 511.12,495.17" fill="none" stroke="#1ec81e"/><polygon points="530.12,491.57 534.36,487.33 538.6,491.57 534.36,495.81" fill="none" stroke="#1ec81e"/><polygon points="553.36,491.57 557.6,487.33 561.84,491.57 557.6,495.81" fill="none" stroke="#1ec81e"/><polygon points="576.6,491.57 580.84,487.33 585.08,491.57 580.84,495.81" fill="none" stroke="#1ec81e"/><polygon points="599.84,491.57 604.08,487.33 608.32,491.57 604.08,495.81" fill="none" stroke="#1ec81e"/><polygon points="623.08,491.57 627.32,487.33 631.56,491.57 627.32,495.81" fill="none" stroke="#1ec81e"/><polygon points="646.32,491.89 650.56,487.64 654.8,491.89 650.56,496.13" fill="none" stroke="#1ec81e"/><polygon points="669.56,491.89 673.8,487.64 678.04,491.89 673.8,496.13" fill="none" stroke="#1ec81e"/></g>
<path d="M448.59 485.5L457.45 485.86M471.8 486.94L480.72 487.92M495.05 489.39L503.95 490.24M518.32 491.13L527.16 491.37M541.56 491.57L550.4 491.57M564.8 491.57L573.64 491.57M588.04 491.57L596.88 491.57M611.28 491.57L620.12 491.57M634.52 491.67L643.36 491.79M657.76 491.89L666.6 491.89" stroke="#1a8c1a" stroke-width="1.1" fill="none"/>
<path d="M482.88 488.09H492.88M482.88 489.32H492.88M487.88 488.09V489.32M506.12 490.25H516.12M506.12 491.62H516.12M511.12 490.25V491.62M529.36 490.86H539.36M529.36 492.27H539.36M534.36 490.86V492.27M552.6 490.86H562.6M552.6 492.27H562.6M557.6 490.86V492.27M575.84 490.86H585.84M575.84 492.27H585.84M580.84 490.86V492.27M599.08 490.86H609.08M599.08 492.27H609.08M604.08 490.86V492.27M622.32 490.86H632.32M622.32 492.27H632.32M627.32 490.86V492.27M645.56 491.17H655.56M645.56 492.6H655.56M650.56 491.17V492.6M668.8 491.17H678.8M668.8 492.6H678.8M673.8 491.17V492.6" stroke="#1a8c1a" stroke-width="0.8" fill="none"/>
<g stroke-width="1.0"><polygon points="441.4,489.87 445.44,482.87 437.36,482.87" fill="none" stroke="#1a8c1a"/><polygon points="464.64,490.82 468.68,483.82 460.6,483.82" fill="none" stroke="#1a8c1a"/><polygon points="487.88,493.37 491.92,486.37 483.84,486.37" fill="none" stroke="#1a8c1a"/><polygon points="511.12,495.6 515.16,488.6 507.08,488.6" fill="none" stroke="#1a8c1a"/><polygon points="534.36,496.23 538.4,489.24 530.32,489.24" fill="none" stroke="#1a8c1a"/><polygon points="557.6,496.23 561.64,489.24 553.56,489.24" fill="none" stroke="#1a8c1a"/><polygon points="580.84,496.23 584.88,489.24 576.8,489.24" fill="none" stroke="#1a8c1a"/><polygon points="604.08,496.23 608.12,489.24 600.04,489.24" fill="none" stroke="#1a8c1a"/><polygon points="627.32,496.23 631.36,489.24 623.28,489.24" fill="none" stroke="#1a8c1a"/><polygon points="650.56,496.55 654.6,489.55 646.52,489.55" fill="none" stroke="#1a8c1a"/><polygon points="673.8,496.55 677.84,489.55 669.76,489.55" fill="none" stroke="#1a8c1a"/></g>
<path d="M446.25 530.51L459.79 515.67M471.48 508.1L481.04 504.96M495 501.64L504 500.28M518.3 498.72L527.18 498.11M541.56 497.52L550.4 497.4M564.8 497.4L573.64 497.52M588.04 497.52L596.88 497.4M611.27 497.59L620.13 497.96M634.5 497.66L643.38 496.93M657.74 495.85L666.62 495.24" stroke="#87ceeb" stroke-width="1.1" fill="none"/>
<path d="M436.4 535.23H446.4M436.4 536.43H446.4M441.4 535.23V536.43M459.64 509.75H469.64M459.64 510.95H469.64M464.64 509.75V510.95M482.88 502.11H492.88M482.88 503.31H492.88M487.88 502.11V503.31M506.12 498.61H516.12M506.12 499.81H516.12M511.12 498.61V499.81M529.36 497.02H539.36M529.36 498.22H539.36M534.36 497.02V498.22M552.6 496.7H562.6M552.6 497.9H562.6M557.6 496.7V497.9M575.84 497.02H585.84M575.84 498.22H585.84M580.84 497.02V498.22M599.08 496.7H609.08M599.08 497.9H609.08M604.08 496.7V497.9M622.32 497.65H632.32M622.32 498.85H632.32M627.32 497.65V498.85M645.56 495.74H655.56M645.56 496.94H655.56M650.56 495.74V496.94M668.8 494.15H678.8M668.8 495.35H678.8M673.8 494.15V495.35" stroke="#87ceeb" stroke-width="0.8" fill="none"/>
<g stroke-width="1.0"><rect x="438.4" y="532.83" width="6" height="6" fill="none" stroke="#87ceeb"/><path d="M438.4 532.83L444.4 538.83M438.4 538.83L444.4 532.83" stroke="#87ceeb"/><rect x="461.64" y="507.35" width="6" height="6" fill="none" stroke="#87ceeb"/><path d="M461.64 507.35L467.64 513.35M461.64 513.35L467.64 507.35" stroke="#87ceeb"/><rect x="484.88" y="499.71" width="6" height="6" fill="none" stroke="#87ceeb"/><path d="M484.88 499.71L490.88 505.71M484.88 505.71L490.88 499.71" stroke="#87ceeb"/><rect x="508.12" y="496.21" width="6" height="6" fill="none" stroke="#87ceeb"/><path d="M508.12 496.21L514.12 502.21M508.12 502.21L514.12 496.21" stroke="#87ceeb"/><rect x="531.36" y="494.62" width="6" height="6" fill="none" stroke="#87ceeb"/><path d="M531.36 494.62L537.36 500.62M531.36 500.62L537.36 494.62" stroke="#87ceeb"/><rect x="554.6" y="494.3" width="6" height="6" fill="none" stroke="#87ceeb"/><path d="M554.6 494.3L560.6 500.3M554.6 500.3L560.6 494.3" stroke="#87ceeb"/><rect x="577.84" y="494.62" width="6" height="6" fill="none" stroke="#87ceeb"/><path d="M577.84 494.62L583.84 500.62M577.84 500.62L583.84 494.62" stroke="#87ceeb"/><rect x="601.08" y="494.3" width="6" height="6" fill="none" stroke="#87ceeb"/><path d="M601.08 494.3L607.08 500.3M601.08 500.3L607.08 494.3" stroke="#87ceeb"/><rect x="624.32" y="495.25" width="6" height="6" fill="none" stroke="#87ceeb"/><path d="M624.32 495.25L630.32 501.25M624.32 501.25L630.32 495.25" stroke="#87ceeb"/><rect x="647.56" y="493.34" width="6" height="6" fill="none" stroke="#87ceeb"/><path d="M647.56 493.34L653.56 499.34M647.56 499.34L653.56 493.34" stroke="#87ceeb"/><rect x="670.8" y="491.75" width="6" height="6" fill="none" stroke="#87ceeb"/><path d="M670.8 491.75L676.8 497.75M670.8 497.75L676.8 491.75" stroke="#87ceeb"/></g>
<path d="M444.45 649.02L461.59 612.4M469 600.14L483.52 581.04M494.51 572.49L504.49 568.25M518.24 564.36L527.24 563.01M541.54 561.44L550.42 560.83M564.8 560.24L573.64 560.12M588.04 560.12L596.88 560.24M611.23 561.22L620.17 562.33M633.56 566.8L644.32 572.99M655.9 581.41L668.46 592.77" stroke="#0a0ad2" stroke-width="1.1" fill="none"/>
<path d="M436.4 654.94H446.4M436.4 656.14H446.4M441.4 654.94V656.14M459.64 605.27H469.64M459.64 606.47H469.64M464.64 605.27V606.47M482.88 574.71H492.88M482.88 575.91H492.88M487.88 574.71V575.91M506.12 564.84H516.12M506.12 566.04H516.12M511.12 564.84V566.04M529.36 561.33H539.36M529.36 562.53H539.36M534.36 561.33V562.53M552.6 559.74H562.6M552.6 560.94H562.6M557.6 559.74V560.94M575.84 559.42H585.84M575.84 560.62H585.84M580.84 559.42V560.62M599.08 559.74H609.08M599.08 560.94H609.08M604.08 559.74V560.94M622.32 562.61H632.32M622.32 563.81H632.32M627.32 562.61V563.81M645.56 575.98H655.56M645.56 577.18H655.56M650.56 575.98V577.18M668.8 597H678.8M668.8 598.2H678.8M673.8 597V598.2" stroke="#0a0ad2" stroke-width="0.8" fill="none"/>
<g stroke-width="1.0"><path d="M437.16 655.54H445.64M441.4 651.3V659.79M438.4 652.54L444.4 658.54M438.4 658.54L444.4 652.54" stroke="#0a0ad2"/><path d="M460.4 605.87H468.88M464.64 601.63V610.12M461.64 602.87L467.64 608.87M461.64 608.87L467.64 602.87" stroke="#0a0ad2"/><path d="M483.64 575.31H492.12M487.88 571.06V579.55M484.88 572.31L490.88 578.31M484.88 578.31L490.88 572.31" stroke="#0a0ad2"/><path d="M506.88 565.44H515.36M511.12 561.19V569.68M508.12 562.44L514.12 568.44M508.12 568.44L514.12 562.44" stroke="#0a0ad2"/><path d="M530.12 561.93H538.6M534.36 557.69V566.18M531.36 558.93L537.36 564.93M531.36 564.93L537.36 558.93" stroke="#0a0ad2"/><path d="M553.36 560.34H561.84M557.6 556.1V564.59M554.6 557.34L560.6 563.34M554.6 563.34L560.6 557.34" stroke="#0a0ad2"/><path d="M576.6 560.02H585.08M580.84 555.78V564.27M577.84 557.02L583.84 563.02M577.84 563.02L583.84 557.02" stroke="#0a0ad2"/><path d="M599.84 560.34H608.32M604.08 556.1V564.59M601.08 557.34L607.08 563.34M601.08 563.34L607.08 557.34" stroke="#0a0ad2"/><path d="M623.08 563.21H631.56M627.32 558.97V567.45M624.32 560.21L630.32 566.21M624.32 566.21L630.32 560.21" stroke="#0a0ad2"/><path d="M646.32 576.58H654.8M650.56 572.34V580.82M647.56 573.58L653.56 579.58M647.56 579.58L653.56 573.58" stroke="#0a0ad2"/><path d="M669.56 597.6H678.04M673.8 593.35V601.84M670.8 594.6L676.8 600.6M670.8 600.6L676.8 594.6" stroke="#0a0ad2"/></g>
<path d="M448.6 485.2L457.44 485.2M471.84 485.2L480.68 485.2M495.08 485.2L503.92 485.2M518.32 485.3L527.16 485.42M541.56 485.72L550.4 485.96M564.8 486.16L573.64 486.16M588.04 486.25L596.88 486.37M611.26 486.97L620.14 487.57M634.44 489.14L643.44 490.5M657.4 493.82L666.96 496.96" stroke="#8030c8" stroke-width="1.1" fill="none"/>
<path d="M622.32 487.47H632.32M622.32 488.67H632.32M627.32 487.47V488.67M645.56 490.97H655.56M645.56 492.17H655.56M650.56 490.97V492.17M668.8 498.61H678.8M668.8 499.81H678.8M673.8 498.61V499.81" stroke="#8030c8" stroke-width="0.8" fill="none"/>
<g stroke-width="1.0"><polygon points="437.16,485.2 441.4,480.96 445.64,485.2 441.4,489.44" fill="none" stroke="#8030c8"/><path d="M437.16 485.2H445.64M441.4 480.96V489.44" stroke="#8030c8"/><polygon points="460.4,485.2 464.64,480.96 468.88,485.2 464.64,489.44" fill="none" stroke="#8030c8"/><path d="M460.4 485.2H468.88M464.64 480.96V489.44" stroke="#8030c8"/><polygon points="483.64,485.2 487.88,480.96 492.12,485.2 487.88,489.44" fill="none" stroke="#8030c8"/><path d="M483.64 485.2H492.12M487.88 480.96V489.44" stroke="#8030c8"/><polygon points="506.88,485.2 511.12,480.96 515.36,485.2 511.12,489.44" fill="none" stroke="#8030c8"/><path d="M506.88 485.2H515.36M511.12 480.96V489.44" stroke="#8030c8"/><polygon points="530.12,485.52 534.36,481.28 538.6,485.52 534.36,489.76" fill="none" stroke="#8030c8"/><path d="M530.12 485.52H538.6M534.36 481.28V489.76" stroke="#8030c8"/><polygon points="553.36,486.16 557.6,481.91 561.84,486.16 557.6,490.4" fill="none" stroke="#8030c8"/><path d="M553.36 486.16H561.84M557.6 481.91V490.4" stroke="#8030c8"/><polygon points="576.6,486.16 580.84,481.91 585.08,486.16 580.84,490.4" fill="none" stroke="#8030c8"/><path d="M576.6 486.16H585.08M580.84 481.91V490.4" stroke="#8030c8"/><polygon points="599.84,486.47 604.08,482.23 608.32,486.47 604.08,490.72" fill="none" stroke="#8030c8"/><path d="M599.84 486.47H608.32M604.08 482.23V490.72" stroke="#8030c8"/><polygon points="623.08,488.07 627.32,483.82 631.56,488.07 627.32,492.31" fill="none" stroke="#8030c8"/><path d="M623.08 488.07H631.56M627.32 483.82V492.31" stroke="#8030c8"/><polygon points="646.32,491.57 650.56,487.33 654.8,491.57 650.56,495.81" fill="none" stroke="#8030c8"/><path d="M646.32 491.57H654.8M650.56 487.33V495.81" stroke="#8030c8"/><polygon points="669.56,499.21 673.8,494.97 678.04,499.21 673.8,503.45" fill="none" stroke="#8030c8"/><path d="M669.56 499.21H678.04M673.8 494.97V503.45" stroke="#8030c8"/></g>
<path d="M448.53 486.18L457.51 487.41M471.39 490.88L481.13 494.48M494.3 500.24L504.7 505.51M517.4 512.29L528.08 518.29M541.08 524.39L550.88 528.15M564.38 533.15L574.06 536.59M587.71 541.17L597.21 544.17M609.64 550.9L621.76 560.86M634.41 566.7L643.47 568.31M657.76 569.77L666.6 570.02" stroke="#d8609a" stroke-width="1.1" fill="none"/>
<path d="M459.64 487.78H469.64M459.64 488.98H469.64M464.64 487.78V488.98M482.88 496.38H492.88M482.88 497.58H492.88M487.88 496.38V497.58M506.12 508.16H516.12M506.12 509.36H516.12M511.12 508.16V509.36M529.36 521.22H539.36M529.36 522.42H539.36M534.36 521.22V522.42M552.6 530.13H562.6M552.6 531.33H562.6M557.6 530.13V531.33M575.84 538.41H585.84M575.84 539.61H585.84M580.84 538.41V539.61M599.08 545.73H609.08M599.08 546.93H609.08M604.08 545.73V546.93M622.32 564.84H632.32M622.32 566.04H632.32M627.32 564.84V566.04M645.56 567.68H655.56M645.56 571.48H655.56M650.56 567.68V571.48M668.8 566.21H678.8M668.8 574.21H678.8M673.8 566.21V574.21" stroke="#d8609a" stroke-width="0.8" fill="none"/>
<g stroke-width="1.0"><circle cx="441.4" cy="485.2" r="3" fill="none" stroke="#d8609a"/><path d="M438.4 485.2H444.4M441.4 482.2V488.2" stroke="#d8609a"/><circle cx="464.64" cy="488.38" r="3" fill="none" stroke="#d8609a"/><path d="M461.64 488.38H467.64M464.64 485.38V491.38" stroke="#d8609a"/><circle cx="487.88" cy="496.98" r="3" fill="none" stroke="#d8609a"/><path d="M484.88 496.98H490.88M487.88 493.98V499.98" stroke="#d8609a"/><circle cx="511.12" cy="508.76" r="3" fill="none" stroke="#d8609a"/><path d="M508.12 508.76H514.12M511.12 505.76V511.76" stroke="#d8609a"/><circle cx="534.36" cy="521.82" r="3" fill="none" stroke="#d8609a"/><path d="M531.36 521.82H537.36M534.36 518.82V524.82" stroke="#d8609a"/><circle cx="557.6" cy="530.73" r="3" fill="none" stroke="#d8609a"/><path d="M554.6 530.73H560.6M557.6 527.73V533.73" stroke="#d8609a"/><circle cx="580.84" cy="539.01" r="3" fill="none" stroke="#d8609a"/><path d="M577.84 539.01H583.84M580.84 536.01V542.01" stroke="#d8609a"/><circle cx="604.08" cy="546.33" r="3" fill="none" stroke="#d8609a"/><path d="M601.08 546.33H607.08M604.08 543.33V549.33" stroke="#d8609a"/><circle cx="627.32" cy="565.44" r="3" fill="none" stroke="#d8609a"/><path d="M624.32 565.44H630.32M627.32 562.44V568.44" stroke="#d8609a"/><circle cx="650.56" cy="569.58" r="3" fill="none" stroke="#d8609a"/><path d="M647.56 569.58H653.56M650.56 566.58V572.58" stroke="#d8609a"/><circle cx="673.8" cy="570.21" r="3" fill="none" stroke="#d8609a"/><path d="M670.8 570.21H676.8M673.8 567.21V573.21" stroke="#d8609a"/></g>
<text x="132.5" y="64.7" class="pl">A</text>
<text x="429.9" y="64.6" class="pl">B</text>
<text x="132.3" y="465.2" class="pl">C</text>
<text x="429.7" y="465.1" class="pl">D</text>
<text transform="translate(82.8,243.4) rotate(-90)" text-anchor="middle" class="at" style="font-size:17.9px">Constraint Specificity</text>
<text transform="translate(82.8,644.9) rotate(-90)" text-anchor="middle" class="at" style="font-size:17.9px">Local Constraint Sensitivity</text>
<text x="410.7" y="872" text-anchor="middle" class="at">Divergence Distance (Substitutions Per Site)</text>
<rect x="225.6" y="896.3" width="364.8" height="63.2" fill="none" stroke="#000" stroke-width="1.3"/>
<g stroke-width="1.1"><rect x="241.94" y="911.64" width="5.32" height="5.32" fill="none" stroke="#000000"/></g>
<text x="262.7" y="918.7" class="lg">Avid</text>
<g stroke-width="1.1"><circle cx="244.6" cy="929.4" r="3" fill="none" stroke="#78889a"/></g>
<text x="262.7" y="933.6" class="lg">ClustalW</text>
<g stroke-width="1.1"><polygon points="244.6,939.53 248.64,946.53 240.56,946.53" fill="none" stroke="#8c1c24"/></g>
<text x="262.7" y="948.5" class="lg">DiAlign</text>
<g stroke-width="1.1"><path d="M329.06 913.8H337.54M333.3 909.56V918.04" stroke="#e81c1c"/></g>
<text x="351.2" y="916.9" class="lg">Lagan</text>
<g stroke-width="1.1"><path d="M330.3 926.4L336.3 932.4M330.3 932.4L336.3 926.4" stroke="#eea020"/></g>
<text x="351.2" y="933.6" class="lg">Needle</text>
<g stroke-width="1.1"><polygon points="411.36,911.6 415.6,907.36 419.84,911.6 415.6,915.84" fill="none" stroke="#1ec81e"/></g>
<text x="434.0" y="916.2" class="lg">BlastZ</text>
<g stroke-width="1.1"><polygon points="415.6,932.17 419.64,925.17 411.56,925.17" fill="none" stroke="#1a8c1a"/></g>
<text x="434.0" y="931.3" class="lg">BlastZ-A</text>
<g stroke-width="1.1"><rect x="412.6" y="939.3" width="6" height="6" fill="none" stroke="#87ceeb"/><path d="M412.6 939.3L418.6 945.3M412.6 945.3L418.6 939.3" stroke="#87ceeb"/></g>
<text x="434.0" y="946.6" class="lg">Chaos</text>
<g stroke-width="1.1"><path d="M495.86 908.7H504.34M500.1 904.46V912.94M497.1 905.7L503.1 911.7M497.1 911.7L503.1 905.7" stroke="#0a0ad2"/></g>
<text x="518.3" y="912.8" class="lg">Chaos-A</text>
<g stroke-width="1.1"><polygon points="495.86,924 500.1,919.76 504.34,924 500.1,928.24" fill="none" stroke="#8030c8"/><path d="M495.86 924H504.34M500.1 919.76V928.24" stroke="#8030c8"/></g>
<text x="518.3" y="928.5" class="lg">DiAlign-L</text>
<g stroke-width="1.1"><circle cx="500.1" cy="939.6" r="3" fill="none" stroke="#d8609a"/><path d="M497.1 939.6H503.1M500.1 936.6V942.6" stroke="#d8609a"/></g>
<text x="518.3" y="943.6" class="lg">WABA</text>
</svg>
</body></html>
